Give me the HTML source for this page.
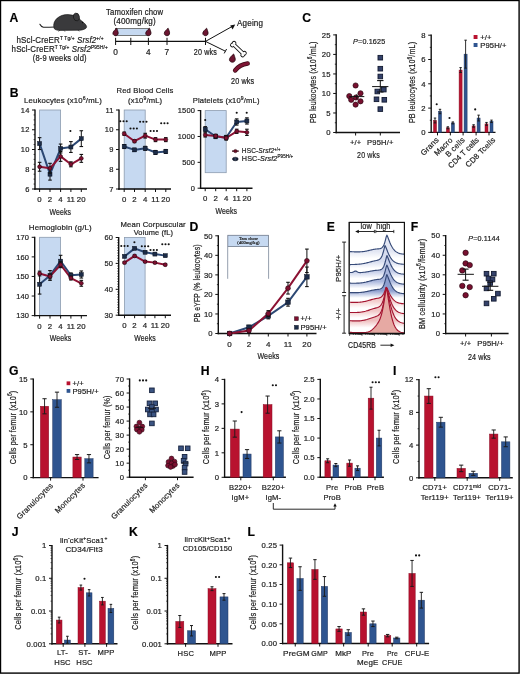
<!DOCTYPE html>
<html><head><meta charset="utf-8"><style>
html,body{margin:0;padding:0;background:#fff;}
svg{display:block;will-change:transform;font-family:"Liberation Sans", sans-serif;}
text{stroke:#222;stroke-width:0.2px;letter-spacing:0.15px;}
</style></head><body>
<svg width="520" height="674" viewBox="0 0 520 674">
<rect x="0" y="0" width="520" height="674" fill="#fff"/>
<rect x="0.5" y="0.5" width="518.6" height="672.6" fill="none" stroke="#000" stroke-width="1.4"/>
<text x="9.46" y="22.2" font-size="12.2" font-weight="bold" fill="#000" style="stroke:#000;stroke-width:0.15px;letter-spacing:0">A</text>
<g fill="#3a3a3c" stroke="#111" stroke-width="0.6"><path d="M55,27.0 C50,27.0 46,27.6 43.4,27.2 C41.8,26.9 40.6,25.6 39.9,24.2" fill="none" stroke="#222" stroke-width="1.1" stroke-linecap="round"/><path d="M54,28 C52,20 60,14.2 68,14.6 C74,14.8 78,17 81,20.5 C84,22.5 87,25.5 86.6,27.2 C86,29 83,30 80,30.2 L60,30.4 C57,30.4 54.5,29.8 54,28 Z"/><ellipse cx="76.4" cy="17.0" rx="3.0" ry="3.9" transform="rotate(-15 76.4 17)"/><path d="M60,30 l-1.5,1.6 M64,30.3 l1,1.4 M78,30 l1.2,1.4" stroke="#222" fill="none"/></g>
<circle cx="82.6" cy="22.6" r="0.6" fill="#000"/>
<text x="60.1" y="42.6" font-size="8.3" text-anchor="middle" font-weight="normal" fill="#1a1a1a" textLength="87.2" lengthAdjust="spacingAndGlyphs">hScl-CreER<tspan dy="-2.8" font-size="5">T Tg/+</tspan><tspan dy="2.8"> </tspan><tspan font-style="italic">Srsf2</tspan><tspan dy="-2.8" font-size="5">+/+</tspan></text>
<text x="59.75" y="52" font-size="8.3" text-anchor="middle" font-weight="normal" fill="#1a1a1a" textLength="96.3" lengthAdjust="spacingAndGlyphs">hScl-CreER<tspan dy="-2.8" font-size="5">T Tg/+</tspan><tspan dy="2.8"> </tspan><tspan font-style="italic">Srsf2</tspan><tspan dy="-2.8" font-size="5">P95H/+</tspan></text>
<text x="59.75" y="60.8" font-size="8.3" text-anchor="middle" font-weight="normal" fill="#1a1a1a" textLength="53.9" lengthAdjust="spacingAndGlyphs">(8-9 weeks old)</text>
<text x="134.6" y="15.3" font-size="8.3" text-anchor="middle" font-weight="normal" fill="#1a1a1a" textLength="57.2" lengthAdjust="spacingAndGlyphs">Tamoxifen chow</text>
<text x="134.65" y="23.8" font-size="8.3" text-anchor="middle" font-weight="normal" fill="#1a1a1a" textLength="42.3" lengthAdjust="spacingAndGlyphs">(400mg/kg)</text>
<rect x="115.6" y="28.6" width="32.8" height="6.8" fill="#c6d9f1" stroke="#444" stroke-width="0.7"/>
<line x1="115.6" y1="41.4" x2="205.5" y2="41.4" stroke="#111" stroke-width="1.1"/>
<line x1="115.6" y1="37.8" x2="115.6" y2="45" stroke="#111" stroke-width="1"/>
<line x1="130.8" y1="37.8" x2="130.8" y2="45" stroke="#111" stroke-width="1"/>
<line x1="148.4" y1="37.8" x2="148.4" y2="45" stroke="#111" stroke-width="1"/>
<line x1="167" y1="37.8" x2="167" y2="45" stroke="#111" stroke-width="1"/>
<line x1="205.5" y1="37.8" x2="205.5" y2="45" stroke="#111" stroke-width="1"/>
<text x="115.6" y="55" font-size="8.3" text-anchor="middle" font-weight="normal" fill="#1a1a1a">0</text>
<text x="148.4" y="55" font-size="8.3" text-anchor="middle" font-weight="normal" fill="#1a1a1a">4</text>
<text x="167" y="55" font-size="8.3" text-anchor="middle" font-weight="normal" fill="#1a1a1a">7</text>
<text x="205.35" y="55" font-size="8.3" text-anchor="middle" font-weight="normal" fill="#1a1a1a" textLength="23.1" lengthAdjust="spacingAndGlyphs">20 wks</text>
<path d="M116.7,28.2 C115,29.8 112.9,31.6 112.9,33.3 C112.9,35 114.4,35.7 115.6,35.7 C117.2,35.7 118.3,34.6 118.2,32.8 C118.1,31 117.2,29.8 116.7,28.2 Z" fill="#6c1631" stroke="#24060e" stroke-width="0.8"/>
<path d="M149.5,28.2 C147.8,29.8 145.7,31.6 145.7,33.3 C145.7,35 147.2,35.7 148.4,35.7 C150,35.7 151.1,34.6 151,32.8 C150.9,31 150,29.8 149.5,28.2 Z" fill="#6c1631" stroke="#24060e" stroke-width="0.8"/>
<path d="M168.1,28.2 C166.4,29.8 164.3,31.6 164.3,33.3 C164.3,35 165.8,35.7 167,35.7 C168.6,35.7 169.7,34.6 169.6,32.8 C169.5,31 168.6,29.8 168.1,28.2 Z" fill="#6c1631" stroke="#24060e" stroke-width="0.8"/>
<path d="M206.6,28.2 C204.9,29.8 202.8,31.6 202.8,33.3 C202.8,35 204.3,35.7 205.5,35.7 C207.1,35.7 208.2,34.6 208.1,32.8 C208,31 207.1,29.8 206.6,28.2 Z" fill="#6c1631" stroke="#24060e" stroke-width="0.8"/>
<line x1="205.5" y1="41.4" x2="232.6" y2="26.2" stroke="#111" stroke-width="1"/>
<path d="M235.2,24.6 L230.2,25.6 L232.6,29.6 Z" fill="#111" stroke="none" stroke-width="1"/>
<line x1="205.5" y1="41.4" x2="225.4" y2="51.2" stroke="#111" stroke-width="1"/>
<line x1="224.2" y1="53.4" x2="226.6" y2="49" stroke="#111" stroke-width="1"/>
<text x="237.1" y="26.3" font-size="8.3" text-anchor="start" font-weight="normal" fill="#1a1a1a" textLength="26" lengthAdjust="spacingAndGlyphs">Ageing</text>
<g transform="translate(238.4,49.1) rotate(44)"><g fill="#111" stroke="#111" stroke-width="1.7"><rect x="-6.6" y="-1.15" width="13.2" height="2.3"/><circle cx="-7.2" cy="-1.25" r="1.45"/><circle cx="-7.2" cy="1.25" r="1.45"/><circle cx="7.2" cy="-1.25" r="1.45"/><circle cx="7.2" cy="1.25" r="1.45"/></g><g fill="#fff" stroke="none"><rect x="-6.6" y="-1.15" width="13.2" height="2.3"/><circle cx="-7.2" cy="-1.25" r="1.45"/><circle cx="-7.2" cy="1.25" r="1.45"/><circle cx="7.2" cy="-1.25" r="1.45"/><circle cx="7.2" cy="1.25" r="1.45"/></g></g>
<path d="M233.61,53.98 C231.74,55.74 229.43,57.72 229.43,59.59 C229.43,61.46 231.08,62.23 232.4,62.23 C234.16,62.23 235.37,61.02 235.26,59.04 C235.15,57.06 234.16,55.74 233.61,53.98 Z" fill="#6c1631" stroke="#24060e" stroke-width="0.8"/>
<path d="M235.2,70.4 Q239.5,64.6 247.6,63.5" fill="none" stroke="#3a0a14" stroke-width="4.6" stroke-linecap="round"/>
<path d="M235.2,70.4 Q239.5,64.6 247.6,63.5" fill="none" stroke="#7e1634" stroke-width="3.2" stroke-linecap="round"/>
<text x="242.65" y="84.4" font-size="8.3" text-anchor="middle" font-weight="normal" fill="#1a1a1a" textLength="23.3" lengthAdjust="spacingAndGlyphs">20 wks</text>
<text x="9.87" y="96.9" font-size="12.2" font-weight="bold" fill="#000" style="stroke:#000;stroke-width:0.15px;letter-spacing:0">B</text>
<text x="63" y="103" font-size="7.8" text-anchor="middle" font-weight="normal" fill="#1a1a1a" textLength="78" lengthAdjust="spacingAndGlyphs">Leukocytes (x10<tspan dy="-2.8" font-size="5.2">6</tspan><tspan dy="2.8">/mL)</tspan></text>
<rect x="39.6" y="110" width="21" height="79" fill="#c6d9f1" stroke="#8c9cb0" stroke-width="0.8"/>
<line x1="35" y1="109.4" x2="35" y2="189.7" stroke="#111" stroke-width="1.4"/>
<line x1="32" y1="189" x2="35" y2="189" stroke="#111" stroke-width="1"/>
<text x="29.5" y="191.7" font-size="7.5" text-anchor="end" font-weight="normal" fill="#1c1c1c">6</text>
<line x1="32" y1="169.25" x2="35" y2="169.25" stroke="#111" stroke-width="1"/>
<text x="29.5" y="171.95" font-size="7.5" text-anchor="end" font-weight="normal" fill="#1c1c1c">8</text>
<line x1="32" y1="149.5" x2="35" y2="149.5" stroke="#111" stroke-width="1"/>
<text x="29.5" y="152.2" font-size="7.5" text-anchor="end" font-weight="normal" fill="#1c1c1c">10</text>
<line x1="32" y1="129.75" x2="35" y2="129.75" stroke="#111" stroke-width="1"/>
<text x="29.5" y="132.45" font-size="7.5" text-anchor="end" font-weight="normal" fill="#1c1c1c">12</text>
<line x1="32" y1="110" x2="35" y2="110" stroke="#111" stroke-width="1"/>
<text x="29.5" y="112.7" font-size="7.5" text-anchor="end" font-weight="normal" fill="#1c1c1c">14</text>
<line x1="33.6" y1="184.06" x2="35" y2="184.06" stroke="#111" stroke-width="0.8"/>
<line x1="33.6" y1="179.12" x2="35" y2="179.12" stroke="#111" stroke-width="0.8"/>
<line x1="33.6" y1="174.19" x2="35" y2="174.19" stroke="#111" stroke-width="0.8"/>
<line x1="33.6" y1="164.31" x2="35" y2="164.31" stroke="#111" stroke-width="0.8"/>
<line x1="33.6" y1="159.38" x2="35" y2="159.38" stroke="#111" stroke-width="0.8"/>
<line x1="33.6" y1="154.44" x2="35" y2="154.44" stroke="#111" stroke-width="0.8"/>
<line x1="33.6" y1="144.56" x2="35" y2="144.56" stroke="#111" stroke-width="0.8"/>
<line x1="33.6" y1="139.62" x2="35" y2="139.62" stroke="#111" stroke-width="0.8"/>
<line x1="33.6" y1="134.69" x2="35" y2="134.69" stroke="#111" stroke-width="0.8"/>
<line x1="33.6" y1="124.81" x2="35" y2="124.81" stroke="#111" stroke-width="0.8"/>
<line x1="33.6" y1="119.88" x2="35" y2="119.88" stroke="#111" stroke-width="0.8"/>
<line x1="33.6" y1="114.94" x2="35" y2="114.94" stroke="#111" stroke-width="0.8"/>
<line x1="34.3" y1="189" x2="87" y2="189" stroke="#111" stroke-width="1.4"/>
<line x1="39.6" y1="189" x2="39.6" y2="192" stroke="#111" stroke-width="1"/>
<line x1="50" y1="189" x2="50" y2="192" stroke="#111" stroke-width="1"/>
<line x1="60.6" y1="189" x2="60.6" y2="192" stroke="#111" stroke-width="1"/>
<line x1="70.9" y1="189" x2="70.9" y2="192" stroke="#111" stroke-width="1"/>
<line x1="81.3" y1="189" x2="81.3" y2="192" stroke="#111" stroke-width="1"/>
<text x="39.6" y="202.2" font-size="7.8" text-anchor="middle" font-weight="normal" fill="#1c1c1c">0</text>
<text x="50" y="202.2" font-size="7.8" text-anchor="middle" font-weight="normal" fill="#1c1c1c">2</text>
<text x="60.6" y="202.2" font-size="7.8" text-anchor="middle" font-weight="normal" fill="#1c1c1c">4</text>
<text x="70.9" y="202.2" font-size="7.8" text-anchor="middle" font-weight="normal" fill="#1c1c1c">11</text>
<text x="81.3" y="202.2" font-size="7.8" text-anchor="middle" font-weight="normal" fill="#1c1c1c">20</text>
<polyline points="39.6,143.57 50,174.19 60.6,148.51 70.9,147.03 81.3,138.64" fill="none" stroke="#2c4874" stroke-width="2.0" stroke-linejoin="round"/>
<polyline points="39.6,166.78 50,168.26 60.6,156.41 70.9,164.31 81.3,158.39" fill="none" stroke="#8c1233" stroke-width="2.0" stroke-linejoin="round"/>
<line x1="39.6" y1="137.65" x2="39.6" y2="149.5" stroke="#111" stroke-width="1"/>
<line x1="37.8" y1="137.65" x2="41.4" y2="137.65" stroke="#111" stroke-width="1.1"/>
<line x1="37.8" y1="149.5" x2="41.4" y2="149.5" stroke="#111" stroke-width="1.1"/>
<rect x="37.6" y="141.57" width="4" height="4" fill="#1c2c48" stroke="#0c1220" stroke-width="0.5"/>
<line x1="50" y1="168.26" x2="50" y2="180.11" stroke="#111" stroke-width="1"/>
<line x1="48.2" y1="168.26" x2="51.8" y2="168.26" stroke="#111" stroke-width="1.1"/>
<line x1="48.2" y1="180.11" x2="51.8" y2="180.11" stroke="#111" stroke-width="1.1"/>
<rect x="48" y="172.19" width="4" height="4" fill="#1c2c48" stroke="#0c1220" stroke-width="0.5"/>
<line x1="60.6" y1="144.07" x2="60.6" y2="152.96" stroke="#111" stroke-width="1"/>
<line x1="58.8" y1="144.07" x2="62.4" y2="144.07" stroke="#111" stroke-width="1.1"/>
<line x1="58.8" y1="152.96" x2="62.4" y2="152.96" stroke="#111" stroke-width="1.1"/>
<rect x="58.6" y="146.51" width="4" height="4" fill="#1c2c48" stroke="#0c1220" stroke-width="0.5"/>
<line x1="70.9" y1="141.6" x2="70.9" y2="152.46" stroke="#111" stroke-width="1"/>
<line x1="69.1" y1="141.6" x2="72.7" y2="141.6" stroke="#111" stroke-width="1.1"/>
<line x1="69.1" y1="152.46" x2="72.7" y2="152.46" stroke="#111" stroke-width="1.1"/>
<rect x="68.9" y="145.03" width="4" height="4" fill="#1c2c48" stroke="#0c1220" stroke-width="0.5"/>
<line x1="81.3" y1="130.74" x2="81.3" y2="146.54" stroke="#111" stroke-width="1"/>
<line x1="79.5" y1="130.74" x2="83.1" y2="130.74" stroke="#111" stroke-width="1.1"/>
<line x1="79.5" y1="146.54" x2="83.1" y2="146.54" stroke="#111" stroke-width="1.1"/>
<rect x="79.3" y="136.64" width="4" height="4" fill="#1c2c48" stroke="#0c1220" stroke-width="0.5"/>
<line x1="39.6" y1="162.34" x2="39.6" y2="171.22" stroke="#111" stroke-width="1"/>
<line x1="37.8" y1="162.34" x2="41.4" y2="162.34" stroke="#111" stroke-width="1.1"/>
<line x1="37.8" y1="171.22" x2="41.4" y2="171.22" stroke="#111" stroke-width="1.1"/>
<circle cx="39.6" cy="166.78" r="1.95" fill="#7e1030" stroke="#2a0610" stroke-width="0.6"/>
<line x1="50" y1="163.32" x2="50" y2="173.2" stroke="#111" stroke-width="1"/>
<line x1="48.2" y1="163.32" x2="51.8" y2="163.32" stroke="#111" stroke-width="1.1"/>
<line x1="48.2" y1="173.2" x2="51.8" y2="173.2" stroke="#111" stroke-width="1.1"/>
<circle cx="50" cy="168.26" r="1.95" fill="#7e1030" stroke="#2a0610" stroke-width="0.6"/>
<line x1="60.6" y1="151.47" x2="60.6" y2="161.35" stroke="#111" stroke-width="1"/>
<line x1="58.8" y1="151.47" x2="62.4" y2="151.47" stroke="#111" stroke-width="1.1"/>
<line x1="58.8" y1="161.35" x2="62.4" y2="161.35" stroke="#111" stroke-width="1.1"/>
<circle cx="60.6" cy="156.41" r="1.95" fill="#7e1030" stroke="#2a0610" stroke-width="0.6"/>
<line x1="70.9" y1="161.84" x2="70.9" y2="166.78" stroke="#111" stroke-width="1"/>
<line x1="69.1" y1="161.84" x2="72.7" y2="161.84" stroke="#111" stroke-width="1.1"/>
<line x1="69.1" y1="166.78" x2="72.7" y2="166.78" stroke="#111" stroke-width="1.1"/>
<circle cx="70.9" cy="164.31" r="1.95" fill="#7e1030" stroke="#2a0610" stroke-width="0.6"/>
<line x1="81.3" y1="154.44" x2="81.3" y2="162.34" stroke="#111" stroke-width="1"/>
<line x1="79.5" y1="154.44" x2="83.1" y2="154.44" stroke="#111" stroke-width="1.1"/>
<line x1="79.5" y1="162.34" x2="83.1" y2="162.34" stroke="#111" stroke-width="1.1"/>
<circle cx="81.3" cy="158.39" r="1.95" fill="#7e1030" stroke="#2a0610" stroke-width="0.6"/>
<circle cx="70.4" cy="131" r="1.05" fill="#111" stroke="none" stroke-width="0.6"/>
<text x="60.4" y="214.6" font-size="8.2" text-anchor="middle" font-weight="normal" fill="#1a1a1a" textLength="21.6" lengthAdjust="spacingAndGlyphs">Weeks</text>
<text x="145" y="93.4" font-size="7.8" text-anchor="middle" font-weight="normal" fill="#1a1a1a" textLength="57" lengthAdjust="spacingAndGlyphs">Red Blood Cells</text>
<text x="145.2" y="103" font-size="7.8" text-anchor="middle" font-weight="normal" fill="#1a1a1a" textLength="34.2" lengthAdjust="spacingAndGlyphs">(x10<tspan dy="-2.8" font-size="5.2">9</tspan><tspan dy="2.8">/mL)</tspan></text>
<rect x="124.2" y="110" width="21" height="79" fill="#c6d9f1" stroke="#8c9cb0" stroke-width="0.8"/>
<line x1="119" y1="109.4" x2="119" y2="189.7" stroke="#111" stroke-width="1.4"/>
<line x1="116" y1="189" x2="119" y2="189" stroke="#111" stroke-width="1"/>
<text x="113.5" y="191.7" font-size="7.5" text-anchor="end" font-weight="normal" fill="#1c1c1c">7</text>
<line x1="116" y1="169.25" x2="119" y2="169.25" stroke="#111" stroke-width="1"/>
<text x="113.5" y="171.95" font-size="7.5" text-anchor="end" font-weight="normal" fill="#1c1c1c">8</text>
<line x1="116" y1="149.5" x2="119" y2="149.5" stroke="#111" stroke-width="1"/>
<text x="113.5" y="152.2" font-size="7.5" text-anchor="end" font-weight="normal" fill="#1c1c1c">9</text>
<line x1="116" y1="129.75" x2="119" y2="129.75" stroke="#111" stroke-width="1"/>
<text x="113.5" y="132.45" font-size="7.5" text-anchor="end" font-weight="normal" fill="#1c1c1c">10</text>
<line x1="116" y1="110" x2="119" y2="110" stroke="#111" stroke-width="1"/>
<text x="113.5" y="112.7" font-size="7.5" text-anchor="end" font-weight="normal" fill="#1c1c1c">11</text>
<line x1="118.3" y1="189" x2="171" y2="189" stroke="#111" stroke-width="1.4"/>
<line x1="124.2" y1="189" x2="124.2" y2="192" stroke="#111" stroke-width="1"/>
<line x1="134.5" y1="189" x2="134.5" y2="192" stroke="#111" stroke-width="1"/>
<line x1="145.2" y1="189" x2="145.2" y2="192" stroke="#111" stroke-width="1"/>
<line x1="155.5" y1="189" x2="155.5" y2="192" stroke="#111" stroke-width="1"/>
<line x1="165.8" y1="189" x2="165.8" y2="192" stroke="#111" stroke-width="1"/>
<text x="124.2" y="202.2" font-size="7.8" text-anchor="middle" font-weight="normal" fill="#1c1c1c">0</text>
<text x="134.5" y="202.2" font-size="7.8" text-anchor="middle" font-weight="normal" fill="#1c1c1c">2</text>
<text x="145.2" y="202.2" font-size="7.8" text-anchor="middle" font-weight="normal" fill="#1c1c1c">4</text>
<text x="155.5" y="202.2" font-size="7.8" text-anchor="middle" font-weight="normal" fill="#1c1c1c">11</text>
<text x="165.8" y="202.2" font-size="7.8" text-anchor="middle" font-weight="normal" fill="#1c1c1c">20</text>
<polyline points="124.2,146.54 134.5,149.89 145.2,148.31 155.5,152.46 165.8,151.47" fill="none" stroke="#2c4874" stroke-width="2.0" stroke-linejoin="round"/>
<polyline points="124.2,133.7 134.5,141.2 145.2,135.68 155.5,139.62 165.8,139.62" fill="none" stroke="#8c1233" stroke-width="2.0" stroke-linejoin="round"/>
<line x1="124.2" y1="144.56" x2="124.2" y2="148.51" stroke="#111" stroke-width="1"/>
<line x1="122.4" y1="144.56" x2="126" y2="144.56" stroke="#111" stroke-width="1.1"/>
<line x1="122.4" y1="148.51" x2="126" y2="148.51" stroke="#111" stroke-width="1.1"/>
<rect x="122.2" y="144.54" width="4" height="4" fill="#1c2c48" stroke="#0c1220" stroke-width="0.5"/>
<line x1="134.5" y1="148.31" x2="134.5" y2="151.47" stroke="#111" stroke-width="1"/>
<line x1="132.7" y1="148.31" x2="136.3" y2="148.31" stroke="#111" stroke-width="1.1"/>
<line x1="132.7" y1="151.47" x2="136.3" y2="151.47" stroke="#111" stroke-width="1.1"/>
<rect x="132.5" y="147.89" width="4" height="4" fill="#1c2c48" stroke="#0c1220" stroke-width="0.5"/>
<line x1="145.2" y1="146.34" x2="145.2" y2="150.29" stroke="#111" stroke-width="1"/>
<line x1="143.4" y1="146.34" x2="147" y2="146.34" stroke="#111" stroke-width="1.1"/>
<line x1="143.4" y1="150.29" x2="147" y2="150.29" stroke="#111" stroke-width="1.1"/>
<rect x="143.2" y="146.31" width="4" height="4" fill="#1c2c48" stroke="#0c1220" stroke-width="0.5"/>
<line x1="155.5" y1="150.49" x2="155.5" y2="154.44" stroke="#111" stroke-width="1"/>
<line x1="153.7" y1="150.49" x2="157.3" y2="150.49" stroke="#111" stroke-width="1.1"/>
<line x1="153.7" y1="154.44" x2="157.3" y2="154.44" stroke="#111" stroke-width="1.1"/>
<rect x="153.5" y="150.46" width="4" height="4" fill="#1c2c48" stroke="#0c1220" stroke-width="0.5"/>
<line x1="165.8" y1="149.5" x2="165.8" y2="153.45" stroke="#111" stroke-width="1"/>
<line x1="164" y1="149.5" x2="167.6" y2="149.5" stroke="#111" stroke-width="1.1"/>
<line x1="164" y1="153.45" x2="167.6" y2="153.45" stroke="#111" stroke-width="1.1"/>
<rect x="163.8" y="149.47" width="4" height="4" fill="#1c2c48" stroke="#0c1220" stroke-width="0.5"/>
<line x1="124.2" y1="132.12" x2="124.2" y2="135.28" stroke="#111" stroke-width="1"/>
<line x1="122.4" y1="132.12" x2="126" y2="132.12" stroke="#111" stroke-width="1.1"/>
<line x1="122.4" y1="135.28" x2="126" y2="135.28" stroke="#111" stroke-width="1.1"/>
<circle cx="124.2" cy="133.7" r="1.95" fill="#7e1030" stroke="#2a0610" stroke-width="0.6"/>
<line x1="134.5" y1="139.82" x2="134.5" y2="142.59" stroke="#111" stroke-width="1"/>
<line x1="132.7" y1="139.82" x2="136.3" y2="139.82" stroke="#111" stroke-width="1.1"/>
<line x1="132.7" y1="142.59" x2="136.3" y2="142.59" stroke="#111" stroke-width="1.1"/>
<circle cx="134.5" cy="141.2" r="1.95" fill="#7e1030" stroke="#2a0610" stroke-width="0.6"/>
<line x1="145.2" y1="133.31" x2="145.2" y2="138.05" stroke="#111" stroke-width="1"/>
<line x1="143.4" y1="133.31" x2="147" y2="133.31" stroke="#111" stroke-width="1.1"/>
<line x1="143.4" y1="138.05" x2="147" y2="138.05" stroke="#111" stroke-width="1.1"/>
<circle cx="145.2" cy="135.68" r="1.95" fill="#7e1030" stroke="#2a0610" stroke-width="0.6"/>
<line x1="155.5" y1="137.65" x2="155.5" y2="141.6" stroke="#111" stroke-width="1"/>
<line x1="153.7" y1="137.65" x2="157.3" y2="137.65" stroke="#111" stroke-width="1.1"/>
<line x1="153.7" y1="141.6" x2="157.3" y2="141.6" stroke="#111" stroke-width="1.1"/>
<circle cx="155.5" cy="139.62" r="1.95" fill="#7e1030" stroke="#2a0610" stroke-width="0.6"/>
<line x1="165.8" y1="137.65" x2="165.8" y2="141.6" stroke="#111" stroke-width="1"/>
<line x1="164" y1="137.65" x2="167.6" y2="137.65" stroke="#111" stroke-width="1.1"/>
<line x1="164" y1="141.6" x2="167.6" y2="141.6" stroke="#111" stroke-width="1.1"/>
<circle cx="165.8" cy="139.62" r="1.95" fill="#7e1030" stroke="#2a0610" stroke-width="0.6"/>
<circle cx="120.3" cy="121.2" r="1.05" fill="#111" stroke="none" stroke-width="0.6"/>
<circle cx="123.5" cy="121.2" r="1.05" fill="#111" stroke="none" stroke-width="0.6"/>
<circle cx="126.7" cy="121.2" r="1.05" fill="#111" stroke="none" stroke-width="0.6"/>
<circle cx="130.5" cy="128.5" r="1.05" fill="#111" stroke="none" stroke-width="0.6"/>
<circle cx="133.7" cy="128.5" r="1.05" fill="#111" stroke="none" stroke-width="0.6"/>
<circle cx="136.9" cy="128.5" r="1.05" fill="#111" stroke="none" stroke-width="0.6"/>
<circle cx="140.1" cy="121.7" r="1.05" fill="#111" stroke="none" stroke-width="0.6"/>
<circle cx="143.3" cy="121.7" r="1.05" fill="#111" stroke="none" stroke-width="0.6"/>
<circle cx="146.5" cy="121.7" r="1.05" fill="#111" stroke="none" stroke-width="0.6"/>
<circle cx="150.6" cy="131" r="1.05" fill="#111" stroke="none" stroke-width="0.6"/>
<circle cx="153.8" cy="131" r="1.05" fill="#111" stroke="none" stroke-width="0.6"/>
<circle cx="157" cy="131" r="1.05" fill="#111" stroke="none" stroke-width="0.6"/>
<circle cx="161.2" cy="123.3" r="1.05" fill="#111" stroke="none" stroke-width="0.6"/>
<circle cx="164.4" cy="123.3" r="1.05" fill="#111" stroke="none" stroke-width="0.6"/>
<circle cx="167.6" cy="123.3" r="1.05" fill="#111" stroke="none" stroke-width="0.6"/>
<text x="226.2" y="102.6" font-size="7.8" text-anchor="middle" font-weight="normal" fill="#1a1a1a" textLength="66.8" lengthAdjust="spacingAndGlyphs">Platelets (x10<tspan dy="-2.8" font-size="5.2">9</tspan><tspan dy="2.8">/mL)</tspan></text>
<rect x="205.2" y="110.6" width="21" height="62.08" fill="#c6d9f1" stroke="#8c9cb0" stroke-width="0.8"/>
<line x1="200.6" y1="110" x2="200.6" y2="188.9" stroke="#111" stroke-width="1.4"/>
<line x1="197.6" y1="188.2" x2="200.6" y2="188.2" stroke="#111" stroke-width="1"/>
<text x="195.1" y="190.9" font-size="7.5" text-anchor="end" font-weight="normal" fill="#1c1c1c">0</text>
<line x1="197.6" y1="162.33" x2="200.6" y2="162.33" stroke="#111" stroke-width="1"/>
<text x="195.1" y="165.03" font-size="7.5" text-anchor="end" font-weight="normal" fill="#1c1c1c">500</text>
<line x1="197.6" y1="136.47" x2="200.6" y2="136.47" stroke="#111" stroke-width="1"/>
<text x="195.1" y="139.17" font-size="7.5" text-anchor="end" font-weight="normal" fill="#1c1c1c">1000</text>
<line x1="197.6" y1="110.6" x2="200.6" y2="110.6" stroke="#111" stroke-width="1"/>
<text x="195.1" y="113.3" font-size="7.5" text-anchor="end" font-weight="normal" fill="#1c1c1c">1500</text>
<line x1="199.9" y1="188.2" x2="252.5" y2="188.2" stroke="#111" stroke-width="1.4"/>
<line x1="205.2" y1="188.2" x2="205.2" y2="191.2" stroke="#111" stroke-width="1"/>
<line x1="215.7" y1="188.2" x2="215.7" y2="191.2" stroke="#111" stroke-width="1"/>
<line x1="226.2" y1="188.2" x2="226.2" y2="191.2" stroke="#111" stroke-width="1"/>
<line x1="236.7" y1="188.2" x2="236.7" y2="191.2" stroke="#111" stroke-width="1"/>
<line x1="246.9" y1="188.2" x2="246.9" y2="191.2" stroke="#111" stroke-width="1"/>
<text x="205.2" y="201.4" font-size="7.8" text-anchor="middle" font-weight="normal" fill="#1c1c1c">0</text>
<text x="215.7" y="201.4" font-size="7.8" text-anchor="middle" font-weight="normal" fill="#1c1c1c">2</text>
<text x="226.2" y="201.4" font-size="7.8" text-anchor="middle" font-weight="normal" fill="#1c1c1c">4</text>
<text x="236.7" y="201.4" font-size="7.8" text-anchor="middle" font-weight="normal" fill="#1c1c1c">11</text>
<text x="246.9" y="201.4" font-size="7.8" text-anchor="middle" font-weight="normal" fill="#1c1c1c">20</text>
<polyline points="205.2,129.22 215.7,136.47 226.2,137.5 236.7,121.98 246.9,120.95" fill="none" stroke="#2c4874" stroke-width="2.0" stroke-linejoin="round"/>
<polyline points="205.2,134.91 215.7,135.95 226.2,138.02 236.7,131.29 246.9,132.33" fill="none" stroke="#8c1233" stroke-width="2.0" stroke-linejoin="round"/>
<line x1="205.2" y1="126.64" x2="205.2" y2="131.81" stroke="#111" stroke-width="1"/>
<line x1="203.4" y1="126.64" x2="207" y2="126.64" stroke="#111" stroke-width="1.1"/>
<line x1="203.4" y1="131.81" x2="207" y2="131.81" stroke="#111" stroke-width="1.1"/>
<rect x="203.2" y="127.22" width="4" height="4" fill="#1c2c48" stroke="#0c1220" stroke-width="0.5"/>
<line x1="215.7" y1="134.4" x2="215.7" y2="138.54" stroke="#111" stroke-width="1"/>
<line x1="213.9" y1="134.4" x2="217.5" y2="134.4" stroke="#111" stroke-width="1.1"/>
<line x1="213.9" y1="138.54" x2="217.5" y2="138.54" stroke="#111" stroke-width="1.1"/>
<rect x="213.7" y="134.47" width="4" height="4" fill="#1c2c48" stroke="#0c1220" stroke-width="0.5"/>
<line x1="226.2" y1="135.43" x2="226.2" y2="139.57" stroke="#111" stroke-width="1"/>
<line x1="224.4" y1="135.43" x2="228" y2="135.43" stroke="#111" stroke-width="1.1"/>
<line x1="224.4" y1="139.57" x2="228" y2="139.57" stroke="#111" stroke-width="1.1"/>
<rect x="224.2" y="135.5" width="4" height="4" fill="#1c2c48" stroke="#0c1220" stroke-width="0.5"/>
<line x1="236.7" y1="118.88" x2="236.7" y2="125.09" stroke="#111" stroke-width="1"/>
<line x1="234.9" y1="118.88" x2="238.5" y2="118.88" stroke="#111" stroke-width="1.1"/>
<line x1="234.9" y1="125.09" x2="238.5" y2="125.09" stroke="#111" stroke-width="1.1"/>
<rect x="234.7" y="119.98" width="4" height="4" fill="#1c2c48" stroke="#0c1220" stroke-width="0.5"/>
<line x1="246.9" y1="117.84" x2="246.9" y2="124.05" stroke="#111" stroke-width="1"/>
<line x1="245.1" y1="117.84" x2="248.7" y2="117.84" stroke="#111" stroke-width="1.1"/>
<line x1="245.1" y1="124.05" x2="248.7" y2="124.05" stroke="#111" stroke-width="1.1"/>
<rect x="244.9" y="118.95" width="4" height="4" fill="#1c2c48" stroke="#0c1220" stroke-width="0.5"/>
<line x1="205.2" y1="132.85" x2="205.2" y2="136.98" stroke="#111" stroke-width="1"/>
<line x1="203.4" y1="132.85" x2="207" y2="132.85" stroke="#111" stroke-width="1.1"/>
<line x1="203.4" y1="136.98" x2="207" y2="136.98" stroke="#111" stroke-width="1.1"/>
<circle cx="205.2" cy="134.91" r="1.95" fill="#7e1030" stroke="#2a0610" stroke-width="0.6"/>
<line x1="215.7" y1="134.4" x2="215.7" y2="137.5" stroke="#111" stroke-width="1"/>
<line x1="213.9" y1="134.4" x2="217.5" y2="134.4" stroke="#111" stroke-width="1.1"/>
<line x1="213.9" y1="137.5" x2="217.5" y2="137.5" stroke="#111" stroke-width="1.1"/>
<circle cx="215.7" cy="135.95" r="1.95" fill="#7e1030" stroke="#2a0610" stroke-width="0.6"/>
<line x1="226.2" y1="135.95" x2="226.2" y2="140.09" stroke="#111" stroke-width="1"/>
<line x1="224.4" y1="135.95" x2="228" y2="135.95" stroke="#111" stroke-width="1.1"/>
<line x1="224.4" y1="140.09" x2="228" y2="140.09" stroke="#111" stroke-width="1.1"/>
<circle cx="226.2" cy="138.02" r="1.95" fill="#7e1030" stroke="#2a0610" stroke-width="0.6"/>
<line x1="236.7" y1="129.22" x2="236.7" y2="133.36" stroke="#111" stroke-width="1"/>
<line x1="234.9" y1="129.22" x2="238.5" y2="129.22" stroke="#111" stroke-width="1.1"/>
<line x1="234.9" y1="133.36" x2="238.5" y2="133.36" stroke="#111" stroke-width="1.1"/>
<circle cx="236.7" cy="131.29" r="1.95" fill="#7e1030" stroke="#2a0610" stroke-width="0.6"/>
<line x1="246.9" y1="129.22" x2="246.9" y2="135.43" stroke="#111" stroke-width="1"/>
<line x1="245.1" y1="129.22" x2="248.7" y2="129.22" stroke="#111" stroke-width="1.1"/>
<line x1="245.1" y1="135.43" x2="248.7" y2="135.43" stroke="#111" stroke-width="1.1"/>
<circle cx="246.9" cy="132.33" r="1.95" fill="#7e1030" stroke="#2a0610" stroke-width="0.6"/>
<circle cx="205.2" cy="120" r="1.05" fill="#111" stroke="none" stroke-width="0.6"/>
<circle cx="236.7" cy="112.7" r="1.05" fill="#111" stroke="none" stroke-width="0.6"/>
<circle cx="246.7" cy="112.7" r="1.05" fill="#111" stroke="none" stroke-width="0.6"/>
<text x="226.3" y="214" font-size="8.2" text-anchor="middle" font-weight="normal" fill="#1a1a1a" textLength="21.6" lengthAdjust="spacingAndGlyphs">Weeks</text>
<line x1="232" y1="151.1" x2="238.8" y2="151.1" stroke="#3a0a16" stroke-width="1.3"/>
<circle cx="235.4" cy="151.1" r="1.7" fill="#6a0e26" stroke="#2a0610" stroke-width="0.5"/>
<ellipse cx="235.3" cy="159.0" rx="2.9" ry="1.8" fill="#142034" stroke="#0a1020" stroke-width="0.5"/>
<rect x="234.4" y="158.2" width="1.8" height="1.6" fill="#3a4a68" stroke="none" stroke-width="0.6"/>
<text x="241.8" y="153.3" font-size="7.8" text-anchor="start" font-weight="normal" fill="#1a1a1a" textLength="38.7" lengthAdjust="spacingAndGlyphs">HSC-<tspan font-style="italic">Srsf2</tspan><tspan dy="-2.8" font-size="4.8">+/+</tspan></text>
<text x="241.8" y="161.1" font-size="7.8" text-anchor="start" font-weight="normal" fill="#1a1a1a" textLength="51.5" lengthAdjust="spacingAndGlyphs">HSC-<tspan font-style="italic">Srsf2</tspan><tspan dy="-2.8" font-size="4.8">P95H/+</tspan></text>
<text x="60.35" y="229.8" font-size="7.8" text-anchor="middle" font-weight="normal" fill="#1a1a1a" textLength="63" lengthAdjust="spacingAndGlyphs">Hemoglobin (g/L)</text>
<rect x="39.6" y="237.3" width="21" height="78.3" fill="#c6d9f1" stroke="#8c9cb0" stroke-width="0.8"/>
<line x1="34.7" y1="236.7" x2="34.7" y2="316.3" stroke="#111" stroke-width="1.4"/>
<line x1="31.7" y1="315.6" x2="34.7" y2="315.6" stroke="#111" stroke-width="1"/>
<text x="29.2" y="318.3" font-size="7.5" text-anchor="end" font-weight="normal" fill="#1c1c1c">130</text>
<line x1="31.7" y1="296.03" x2="34.7" y2="296.03" stroke="#111" stroke-width="1"/>
<text x="29.2" y="298.73" font-size="7.5" text-anchor="end" font-weight="normal" fill="#1c1c1c">140</text>
<line x1="31.7" y1="276.45" x2="34.7" y2="276.45" stroke="#111" stroke-width="1"/>
<text x="29.2" y="279.15" font-size="7.5" text-anchor="end" font-weight="normal" fill="#1c1c1c">150</text>
<line x1="31.7" y1="256.88" x2="34.7" y2="256.88" stroke="#111" stroke-width="1"/>
<text x="29.2" y="259.57" font-size="7.5" text-anchor="end" font-weight="normal" fill="#1c1c1c">160</text>
<line x1="31.7" y1="237.3" x2="34.7" y2="237.3" stroke="#111" stroke-width="1"/>
<text x="29.2" y="240" font-size="7.5" text-anchor="end" font-weight="normal" fill="#1c1c1c">170</text>
<line x1="34" y1="315.6" x2="87" y2="315.6" stroke="#111" stroke-width="1.4"/>
<line x1="39.6" y1="315.6" x2="39.6" y2="318.6" stroke="#111" stroke-width="1"/>
<line x1="50" y1="315.6" x2="50" y2="318.6" stroke="#111" stroke-width="1"/>
<line x1="60.6" y1="315.6" x2="60.6" y2="318.6" stroke="#111" stroke-width="1"/>
<line x1="70.9" y1="315.6" x2="70.9" y2="318.6" stroke="#111" stroke-width="1"/>
<line x1="81.3" y1="315.6" x2="81.3" y2="318.6" stroke="#111" stroke-width="1"/>
<text x="39.6" y="328.8" font-size="7.8" text-anchor="middle" font-weight="normal" fill="#1c1c1c">0</text>
<text x="50" y="328.8" font-size="7.8" text-anchor="middle" font-weight="normal" fill="#1c1c1c">2</text>
<text x="60.6" y="328.8" font-size="7.8" text-anchor="middle" font-weight="normal" fill="#1c1c1c">4</text>
<text x="70.9" y="328.8" font-size="7.8" text-anchor="middle" font-weight="normal" fill="#1c1c1c">11</text>
<text x="81.3" y="328.8" font-size="7.8" text-anchor="middle" font-weight="normal" fill="#1c1c1c">20</text>
<polyline points="39.6,284.28 50,275.47 60.6,261.18 70.9,275.28 81.3,274.49" fill="none" stroke="#2c4874" stroke-width="2.0" stroke-linejoin="round"/>
<polyline points="39.6,273.51 50,276.45 60.6,264.71 70.9,278.02 81.3,283.3" fill="none" stroke="#8c1233" stroke-width="2.0" stroke-linejoin="round"/>
<line x1="39.6" y1="274.49" x2="39.6" y2="294.07" stroke="#111" stroke-width="1"/>
<line x1="37.8" y1="274.49" x2="41.4" y2="274.49" stroke="#111" stroke-width="1.1"/>
<line x1="37.8" y1="294.07" x2="41.4" y2="294.07" stroke="#111" stroke-width="1.1"/>
<rect x="37.6" y="282.28" width="4" height="4" fill="#1c2c48" stroke="#0c1220" stroke-width="0.5"/>
<line x1="50" y1="270.58" x2="50" y2="280.37" stroke="#111" stroke-width="1"/>
<line x1="48.2" y1="270.58" x2="51.8" y2="270.58" stroke="#111" stroke-width="1.1"/>
<line x1="48.2" y1="280.37" x2="51.8" y2="280.37" stroke="#111" stroke-width="1.1"/>
<rect x="48" y="273.47" width="4" height="4" fill="#1c2c48" stroke="#0c1220" stroke-width="0.5"/>
<line x1="60.6" y1="255.31" x2="60.6" y2="267.05" stroke="#111" stroke-width="1"/>
<line x1="58.8" y1="255.31" x2="62.4" y2="255.31" stroke="#111" stroke-width="1.1"/>
<line x1="58.8" y1="267.05" x2="62.4" y2="267.05" stroke="#111" stroke-width="1.1"/>
<rect x="58.6" y="259.18" width="4" height="4" fill="#1c2c48" stroke="#0c1220" stroke-width="0.5"/>
<line x1="70.9" y1="272.93" x2="70.9" y2="277.62" stroke="#111" stroke-width="1"/>
<line x1="69.1" y1="272.93" x2="72.7" y2="272.93" stroke="#111" stroke-width="1.1"/>
<line x1="69.1" y1="277.62" x2="72.7" y2="277.62" stroke="#111" stroke-width="1.1"/>
<rect x="68.9" y="273.28" width="4" height="4" fill="#1c2c48" stroke="#0c1220" stroke-width="0.5"/>
<line x1="81.3" y1="270.97" x2="81.3" y2="278.02" stroke="#111" stroke-width="1"/>
<line x1="79.5" y1="270.97" x2="83.1" y2="270.97" stroke="#111" stroke-width="1.1"/>
<line x1="79.5" y1="278.02" x2="83.1" y2="278.02" stroke="#111" stroke-width="1.1"/>
<rect x="79.3" y="272.49" width="4" height="4" fill="#1c2c48" stroke="#0c1220" stroke-width="0.5"/>
<line x1="39.6" y1="271.16" x2="39.6" y2="275.86" stroke="#111" stroke-width="1"/>
<line x1="37.8" y1="271.16" x2="41.4" y2="271.16" stroke="#111" stroke-width="1.1"/>
<line x1="37.8" y1="275.86" x2="41.4" y2="275.86" stroke="#111" stroke-width="1.1"/>
<circle cx="39.6" cy="273.51" r="1.95" fill="#7e1030" stroke="#2a0610" stroke-width="0.6"/>
<line x1="50" y1="274.1" x2="50" y2="278.8" stroke="#111" stroke-width="1"/>
<line x1="48.2" y1="274.1" x2="51.8" y2="274.1" stroke="#111" stroke-width="1.1"/>
<line x1="48.2" y1="278.8" x2="51.8" y2="278.8" stroke="#111" stroke-width="1.1"/>
<circle cx="50" cy="276.45" r="1.95" fill="#7e1030" stroke="#2a0610" stroke-width="0.6"/>
<line x1="60.6" y1="261.77" x2="60.6" y2="267.64" stroke="#111" stroke-width="1"/>
<line x1="58.8" y1="261.77" x2="62.4" y2="261.77" stroke="#111" stroke-width="1.1"/>
<line x1="58.8" y1="267.64" x2="62.4" y2="267.64" stroke="#111" stroke-width="1.1"/>
<circle cx="60.6" cy="264.71" r="1.95" fill="#7e1030" stroke="#2a0610" stroke-width="0.6"/>
<line x1="70.9" y1="276.06" x2="70.9" y2="279.97" stroke="#111" stroke-width="1"/>
<line x1="69.1" y1="276.06" x2="72.7" y2="276.06" stroke="#111" stroke-width="1.1"/>
<line x1="69.1" y1="279.97" x2="72.7" y2="279.97" stroke="#111" stroke-width="1.1"/>
<circle cx="70.9" cy="278.02" r="1.95" fill="#7e1030" stroke="#2a0610" stroke-width="0.6"/>
<line x1="81.3" y1="280.37" x2="81.3" y2="286.24" stroke="#111" stroke-width="1"/>
<line x1="79.5" y1="280.37" x2="83.1" y2="280.37" stroke="#111" stroke-width="1.1"/>
<line x1="79.5" y1="286.24" x2="83.1" y2="286.24" stroke="#111" stroke-width="1.1"/>
<circle cx="81.3" cy="283.3" r="1.95" fill="#7e1030" stroke="#2a0610" stroke-width="0.6"/>
<text x="60.6" y="341.3" font-size="8.2" text-anchor="middle" font-weight="normal" fill="#1a1a1a" textLength="21.6" lengthAdjust="spacingAndGlyphs">Weeks</text>
<text x="153.15" y="227" font-size="7.8" text-anchor="middle" font-weight="normal" fill="#1a1a1a" textLength="65.3" lengthAdjust="spacingAndGlyphs">Mean Corpuscular</text>
<text x="153.45" y="235.4" font-size="7.8" text-anchor="middle" font-weight="normal" fill="#1a1a1a" textLength="39.5" lengthAdjust="spacingAndGlyphs">Volume (fL)</text>
<rect x="124.5" y="237.5" width="20.6" height="77.7" fill="#c6d9f1" stroke="#8c9cb0" stroke-width="0.8"/>
<line x1="118.7" y1="236.9" x2="118.7" y2="315.9" stroke="#111" stroke-width="1.4"/>
<line x1="115.7" y1="315.2" x2="118.7" y2="315.2" stroke="#111" stroke-width="1"/>
<text x="113.2" y="317.9" font-size="7.5" text-anchor="end" font-weight="normal" fill="#1c1c1c">30</text>
<line x1="115.7" y1="289.3" x2="118.7" y2="289.3" stroke="#111" stroke-width="1"/>
<text x="113.2" y="292" font-size="7.5" text-anchor="end" font-weight="normal" fill="#1c1c1c">40</text>
<line x1="115.7" y1="263.4" x2="118.7" y2="263.4" stroke="#111" stroke-width="1"/>
<text x="113.2" y="266.1" font-size="7.5" text-anchor="end" font-weight="normal" fill="#1c1c1c">50</text>
<line x1="115.7" y1="237.5" x2="118.7" y2="237.5" stroke="#111" stroke-width="1"/>
<text x="113.2" y="240.2" font-size="7.5" text-anchor="end" font-weight="normal" fill="#1c1c1c">60</text>
<line x1="117.3" y1="312.61" x2="118.7" y2="312.61" stroke="#111" stroke-width="0.8"/>
<line x1="117.3" y1="310.02" x2="118.7" y2="310.02" stroke="#111" stroke-width="0.8"/>
<line x1="117.3" y1="307.43" x2="118.7" y2="307.43" stroke="#111" stroke-width="0.8"/>
<line x1="117.3" y1="304.84" x2="118.7" y2="304.84" stroke="#111" stroke-width="0.8"/>
<line x1="117.3" y1="302.25" x2="118.7" y2="302.25" stroke="#111" stroke-width="0.8"/>
<line x1="117.3" y1="299.66" x2="118.7" y2="299.66" stroke="#111" stroke-width="0.8"/>
<line x1="117.3" y1="297.07" x2="118.7" y2="297.07" stroke="#111" stroke-width="0.8"/>
<line x1="117.3" y1="294.48" x2="118.7" y2="294.48" stroke="#111" stroke-width="0.8"/>
<line x1="117.3" y1="291.89" x2="118.7" y2="291.89" stroke="#111" stroke-width="0.8"/>
<line x1="117.3" y1="286.71" x2="118.7" y2="286.71" stroke="#111" stroke-width="0.8"/>
<line x1="117.3" y1="284.12" x2="118.7" y2="284.12" stroke="#111" stroke-width="0.8"/>
<line x1="117.3" y1="281.53" x2="118.7" y2="281.53" stroke="#111" stroke-width="0.8"/>
<line x1="117.3" y1="278.94" x2="118.7" y2="278.94" stroke="#111" stroke-width="0.8"/>
<line x1="117.3" y1="276.35" x2="118.7" y2="276.35" stroke="#111" stroke-width="0.8"/>
<line x1="117.3" y1="273.76" x2="118.7" y2="273.76" stroke="#111" stroke-width="0.8"/>
<line x1="117.3" y1="271.17" x2="118.7" y2="271.17" stroke="#111" stroke-width="0.8"/>
<line x1="117.3" y1="268.58" x2="118.7" y2="268.58" stroke="#111" stroke-width="0.8"/>
<line x1="117.3" y1="265.99" x2="118.7" y2="265.99" stroke="#111" stroke-width="0.8"/>
<line x1="117.3" y1="260.81" x2="118.7" y2="260.81" stroke="#111" stroke-width="0.8"/>
<line x1="117.3" y1="258.22" x2="118.7" y2="258.22" stroke="#111" stroke-width="0.8"/>
<line x1="117.3" y1="255.63" x2="118.7" y2="255.63" stroke="#111" stroke-width="0.8"/>
<line x1="117.3" y1="253.04" x2="118.7" y2="253.04" stroke="#111" stroke-width="0.8"/>
<line x1="117.3" y1="250.45" x2="118.7" y2="250.45" stroke="#111" stroke-width="0.8"/>
<line x1="117.3" y1="247.86" x2="118.7" y2="247.86" stroke="#111" stroke-width="0.8"/>
<line x1="117.3" y1="245.27" x2="118.7" y2="245.27" stroke="#111" stroke-width="0.8"/>
<line x1="117.3" y1="242.68" x2="118.7" y2="242.68" stroke="#111" stroke-width="0.8"/>
<line x1="117.3" y1="240.09" x2="118.7" y2="240.09" stroke="#111" stroke-width="0.8"/>
<line x1="118" y1="315.2" x2="171" y2="315.2" stroke="#111" stroke-width="1.4"/>
<line x1="124.5" y1="315.2" x2="124.5" y2="318.2" stroke="#111" stroke-width="1"/>
<line x1="134.6" y1="315.2" x2="134.6" y2="318.2" stroke="#111" stroke-width="1"/>
<line x1="145.1" y1="315.2" x2="145.1" y2="318.2" stroke="#111" stroke-width="1"/>
<line x1="154.9" y1="315.2" x2="154.9" y2="318.2" stroke="#111" stroke-width="1"/>
<line x1="165.3" y1="315.2" x2="165.3" y2="318.2" stroke="#111" stroke-width="1"/>
<text x="124.5" y="328.4" font-size="7.8" text-anchor="middle" font-weight="normal" fill="#1c1c1c">0</text>
<text x="134.6" y="328.4" font-size="7.8" text-anchor="middle" font-weight="normal" fill="#1c1c1c">2</text>
<text x="145.1" y="328.4" font-size="7.8" text-anchor="middle" font-weight="normal" fill="#1c1c1c">4</text>
<text x="154.9" y="328.4" font-size="7.8" text-anchor="middle" font-weight="normal" fill="#1c1c1c">11</text>
<text x="165.3" y="328.4" font-size="7.8" text-anchor="middle" font-weight="normal" fill="#1c1c1c">20</text>
<polyline points="124.5,256.41 134.6,248.38 145.1,252.26 154.9,254.08 165.3,255.63" fill="none" stroke="#2c4874" stroke-width="2.0" stroke-linejoin="round"/>
<polyline points="124.5,262.62 134.6,255.89 145.1,261.59 154.9,262.62 165.3,264.69" fill="none" stroke="#8c1233" stroke-width="2.0" stroke-linejoin="round"/>
<line x1="124.5" y1="255.37" x2="124.5" y2="257.44" stroke="#111" stroke-width="1"/>
<line x1="122.7" y1="255.37" x2="126.3" y2="255.37" stroke="#111" stroke-width="1.1"/>
<line x1="122.7" y1="257.44" x2="126.3" y2="257.44" stroke="#111" stroke-width="1.1"/>
<rect x="122.5" y="254.41" width="4" height="4" fill="#1c2c48" stroke="#0c1220" stroke-width="0.5"/>
<line x1="134.6" y1="247.34" x2="134.6" y2="249.41" stroke="#111" stroke-width="1"/>
<line x1="132.8" y1="247.34" x2="136.4" y2="247.34" stroke="#111" stroke-width="1.1"/>
<line x1="132.8" y1="249.41" x2="136.4" y2="249.41" stroke="#111" stroke-width="1.1"/>
<rect x="132.6" y="246.38" width="4" height="4" fill="#1c2c48" stroke="#0c1220" stroke-width="0.5"/>
<line x1="145.1" y1="251.23" x2="145.1" y2="253.3" stroke="#111" stroke-width="1"/>
<line x1="143.3" y1="251.23" x2="146.9" y2="251.23" stroke="#111" stroke-width="1.1"/>
<line x1="143.3" y1="253.3" x2="146.9" y2="253.3" stroke="#111" stroke-width="1.1"/>
<rect x="143.1" y="250.26" width="4" height="4" fill="#1c2c48" stroke="#0c1220" stroke-width="0.5"/>
<line x1="154.9" y1="253.04" x2="154.9" y2="255.11" stroke="#111" stroke-width="1"/>
<line x1="153.1" y1="253.04" x2="156.7" y2="253.04" stroke="#111" stroke-width="1.1"/>
<line x1="153.1" y1="255.11" x2="156.7" y2="255.11" stroke="#111" stroke-width="1.1"/>
<rect x="152.9" y="252.08" width="4" height="4" fill="#1c2c48" stroke="#0c1220" stroke-width="0.5"/>
<line x1="165.3" y1="254.59" x2="165.3" y2="256.67" stroke="#111" stroke-width="1"/>
<line x1="163.5" y1="254.59" x2="167.1" y2="254.59" stroke="#111" stroke-width="1.1"/>
<line x1="163.5" y1="256.67" x2="167.1" y2="256.67" stroke="#111" stroke-width="1.1"/>
<rect x="163.3" y="253.63" width="4" height="4" fill="#1c2c48" stroke="#0c1220" stroke-width="0.5"/>
<line x1="124.5" y1="261.59" x2="124.5" y2="263.66" stroke="#111" stroke-width="1"/>
<line x1="122.7" y1="261.59" x2="126.3" y2="261.59" stroke="#111" stroke-width="1.1"/>
<line x1="122.7" y1="263.66" x2="126.3" y2="263.66" stroke="#111" stroke-width="1.1"/>
<circle cx="124.5" cy="262.62" r="1.95" fill="#7e1030" stroke="#2a0610" stroke-width="0.6"/>
<line x1="134.6" y1="254.85" x2="134.6" y2="256.93" stroke="#111" stroke-width="1"/>
<line x1="132.8" y1="254.85" x2="136.4" y2="254.85" stroke="#111" stroke-width="1.1"/>
<line x1="132.8" y1="256.93" x2="136.4" y2="256.93" stroke="#111" stroke-width="1.1"/>
<circle cx="134.6" cy="255.89" r="1.95" fill="#7e1030" stroke="#2a0610" stroke-width="0.6"/>
<line x1="145.1" y1="260.55" x2="145.1" y2="262.62" stroke="#111" stroke-width="1"/>
<line x1="143.3" y1="260.55" x2="146.9" y2="260.55" stroke="#111" stroke-width="1.1"/>
<line x1="143.3" y1="262.62" x2="146.9" y2="262.62" stroke="#111" stroke-width="1.1"/>
<circle cx="145.1" cy="261.59" r="1.95" fill="#7e1030" stroke="#2a0610" stroke-width="0.6"/>
<line x1="154.9" y1="261.59" x2="154.9" y2="263.66" stroke="#111" stroke-width="1"/>
<line x1="153.1" y1="261.59" x2="156.7" y2="261.59" stroke="#111" stroke-width="1.1"/>
<line x1="153.1" y1="263.66" x2="156.7" y2="263.66" stroke="#111" stroke-width="1.1"/>
<circle cx="154.9" cy="262.62" r="1.95" fill="#7e1030" stroke="#2a0610" stroke-width="0.6"/>
<line x1="165.3" y1="263.66" x2="165.3" y2="265.73" stroke="#111" stroke-width="1"/>
<line x1="163.5" y1="263.66" x2="167.1" y2="263.66" stroke="#111" stroke-width="1.1"/>
<line x1="163.5" y1="265.73" x2="167.1" y2="265.73" stroke="#111" stroke-width="1.1"/>
<circle cx="165.3" cy="264.69" r="1.95" fill="#7e1030" stroke="#2a0610" stroke-width="0.6"/>
<circle cx="121.3" cy="246" r="1.05" fill="#111" stroke="none" stroke-width="0.6"/>
<circle cx="124.5" cy="246" r="1.05" fill="#111" stroke="none" stroke-width="0.6"/>
<circle cx="127.7" cy="246" r="1.05" fill="#111" stroke="none" stroke-width="0.6"/>
<circle cx="134.4" cy="242.2" r="1.05" fill="#111" stroke="none" stroke-width="0.6"/>
<circle cx="141.8" cy="246.3" r="1.05" fill="#111" stroke="none" stroke-width="0.6"/>
<circle cx="145" cy="246.3" r="1.05" fill="#111" stroke="none" stroke-width="0.6"/>
<circle cx="148.2" cy="246.3" r="1.05" fill="#111" stroke="none" stroke-width="0.6"/>
<circle cx="150.5" cy="250" r="1.05" fill="#111" stroke="none" stroke-width="0.6"/>
<circle cx="153.7" cy="250" r="1.05" fill="#111" stroke="none" stroke-width="0.6"/>
<circle cx="156.9" cy="250" r="1.05" fill="#111" stroke="none" stroke-width="0.6"/>
<circle cx="162.3" cy="244.2" r="1.05" fill="#111" stroke="none" stroke-width="0.6"/>
<circle cx="165.5" cy="244.2" r="1.05" fill="#111" stroke="none" stroke-width="0.6"/>
<circle cx="168.7" cy="244.2" r="1.05" fill="#111" stroke="none" stroke-width="0.6"/>
<text x="145" y="341" font-size="8.2" text-anchor="middle" font-weight="normal" fill="#1a1a1a" textLength="21.6" lengthAdjust="spacingAndGlyphs">Weeks</text>
<text x="302.27" y="22.2" font-size="12.2" font-weight="bold" fill="#000" style="stroke:#000;stroke-width:0.15px;letter-spacing:0">C</text>
<line x1="336.2" y1="34.3" x2="336.2" y2="133.2" stroke="#111" stroke-width="1.4"/>
<line x1="333.2" y1="132.5" x2="336.2" y2="132.5" stroke="#111" stroke-width="1"/>
<text x="330.7" y="135.27" font-size="7.7" text-anchor="end" font-weight="normal" fill="#1c1c1c">0</text>
<line x1="333.2" y1="112.98" x2="336.2" y2="112.98" stroke="#111" stroke-width="1"/>
<text x="330.7" y="115.75" font-size="7.7" text-anchor="end" font-weight="normal" fill="#1c1c1c">5</text>
<line x1="333.2" y1="93.46" x2="336.2" y2="93.46" stroke="#111" stroke-width="1"/>
<text x="330.7" y="96.23" font-size="7.7" text-anchor="end" font-weight="normal" fill="#1c1c1c">10</text>
<line x1="333.2" y1="73.94" x2="336.2" y2="73.94" stroke="#111" stroke-width="1"/>
<text x="330.7" y="76.71" font-size="7.7" text-anchor="end" font-weight="normal" fill="#1c1c1c">15</text>
<line x1="333.2" y1="54.42" x2="336.2" y2="54.42" stroke="#111" stroke-width="1"/>
<text x="330.7" y="57.19" font-size="7.7" text-anchor="end" font-weight="normal" fill="#1c1c1c">20</text>
<line x1="333.2" y1="34.9" x2="336.2" y2="34.9" stroke="#111" stroke-width="1"/>
<text x="330.7" y="37.67" font-size="7.7" text-anchor="end" font-weight="normal" fill="#1c1c1c">25</text>
<line x1="334.8" y1="122.74" x2="336.2" y2="122.74" stroke="#111" stroke-width="0.8"/>
<line x1="334.8" y1="103.22" x2="336.2" y2="103.22" stroke="#111" stroke-width="0.8"/>
<line x1="334.8" y1="83.7" x2="336.2" y2="83.7" stroke="#111" stroke-width="0.8"/>
<line x1="334.8" y1="64.18" x2="336.2" y2="64.18" stroke="#111" stroke-width="0.8"/>
<line x1="334.8" y1="44.66" x2="336.2" y2="44.66" stroke="#111" stroke-width="0.8"/>
<line x1="335.5" y1="132.5" x2="400" y2="132.5" stroke="#111" stroke-width="1.4"/>
<line x1="355.6" y1="132.5" x2="355.6" y2="135.5" stroke="#111" stroke-width="1"/>
<line x1="380.3" y1="132.5" x2="380.3" y2="135.5" stroke="#111" stroke-width="1"/>
<text x="369.2" y="44" font-size="7.2" text-anchor="middle" font-weight="normal" fill="#1a1a1a"><tspan font-style="italic">P</tspan>=0.1625</text>
<text x="315.7" y="82.25" font-size="9.6" text-anchor="middle" font-weight="normal" fill="#1a1a1a" transform="rotate(-90 315.7 82.25)" textLength="81.7" lengthAdjust="spacingAndGlyphs">PB leukocytes (x10<tspan dy="-3.6" font-size="6.4">6</tspan><tspan dy="3.6">/mL)</tspan></text>
<circle cx="355.6" cy="85.5" r="2.6" fill="#781030" stroke="#2a0610" stroke-width="0.7"/>
<circle cx="349.3" cy="96.1" r="2.6" fill="#781030" stroke="#2a0610" stroke-width="0.7"/>
<circle cx="360.5" cy="93.3" r="2.6" fill="#781030" stroke="#2a0610" stroke-width="0.7"/>
<circle cx="351.2" cy="99.8" r="2.6" fill="#781030" stroke="#2a0610" stroke-width="0.7"/>
<circle cx="355.9" cy="97.5" r="2.6" fill="#781030" stroke="#2a0610" stroke-width="0.7"/>
<circle cx="360.5" cy="101.3" r="2.6" fill="#781030" stroke="#2a0610" stroke-width="0.7"/>
<circle cx="355.6" cy="104.6" r="2.6" fill="#781030" stroke="#2a0610" stroke-width="0.7"/>
<line x1="349.3" y1="96.6" x2="364.3" y2="96.6" stroke="#111" stroke-width="1"/>
<line x1="356.8" y1="94.2" x2="356.8" y2="99" stroke="#111" stroke-width="1"/>
<rect x="378" y="55.4" width="4.6" height="4.6" fill="#34416a" stroke="#121a30" stroke-width="0.9"/>
<rect x="378" y="66.4" width="4.6" height="4.6" fill="#34416a" stroke="#121a30" stroke-width="0.9"/>
<rect x="378" y="74.2" width="4.6" height="4.6" fill="#34416a" stroke="#121a30" stroke-width="0.9"/>
<rect x="375" y="89.2" width="4.6" height="4.6" fill="#34416a" stroke="#121a30" stroke-width="0.9"/>
<rect x="381.5" y="87.3" width="4.6" height="4.6" fill="#34416a" stroke="#121a30" stroke-width="0.9"/>
<rect x="374.2" y="97" width="4.6" height="4.6" fill="#34416a" stroke="#121a30" stroke-width="0.9"/>
<rect x="382" y="97.5" width="4.6" height="4.6" fill="#34416a" stroke="#121a30" stroke-width="0.9"/>
<rect x="378" y="106.8" width="4.6" height="4.6" fill="#34416a" stroke="#121a30" stroke-width="0.9"/>
<line x1="372.1" y1="86.6" x2="388.4" y2="86.6" stroke="#111" stroke-width="1"/>
<line x1="380.3" y1="80.6" x2="380.3" y2="92" stroke="#111" stroke-width="1"/>
<line x1="377.1" y1="80.6" x2="383.5" y2="80.6" stroke="#111" stroke-width="1.1"/>
<line x1="377.1" y1="92" x2="383.5" y2="92" stroke="#111" stroke-width="1.1"/>
<text x="355.6" y="145.2" font-size="7.6" text-anchor="middle" font-weight="normal" fill="#1a1a1a">+/+</text>
<text x="380.3" y="145.2" font-size="7.6" text-anchor="middle" font-weight="normal" fill="#1a1a1a">P95H/+</text>
<text x="368.45" y="158.1" font-size="9.8" text-anchor="middle" font-weight="normal" fill="#1a1a1a" textLength="22.7" lengthAdjust="spacingAndGlyphs">20 wks</text>
<line x1="431.2" y1="34.6" x2="431.2" y2="133.1" stroke="#111" stroke-width="1.4"/>
<line x1="428.2" y1="132.4" x2="431.2" y2="132.4" stroke="#111" stroke-width="1"/>
<text x="425.7" y="135.17" font-size="7.7" text-anchor="end" font-weight="normal" fill="#1c1c1c">0</text>
<line x1="428.2" y1="108.1" x2="431.2" y2="108.1" stroke="#111" stroke-width="1"/>
<text x="425.7" y="110.87" font-size="7.7" text-anchor="end" font-weight="normal" fill="#1c1c1c">2</text>
<line x1="428.2" y1="83.8" x2="431.2" y2="83.8" stroke="#111" stroke-width="1"/>
<text x="425.7" y="86.57" font-size="7.7" text-anchor="end" font-weight="normal" fill="#1c1c1c">4</text>
<line x1="428.2" y1="59.5" x2="431.2" y2="59.5" stroke="#111" stroke-width="1"/>
<text x="425.7" y="62.27" font-size="7.7" text-anchor="end" font-weight="normal" fill="#1c1c1c">6</text>
<line x1="428.2" y1="35.2" x2="431.2" y2="35.2" stroke="#111" stroke-width="1"/>
<text x="425.7" y="37.97" font-size="7.7" text-anchor="end" font-weight="normal" fill="#1c1c1c">8</text>
<line x1="429.8" y1="120.25" x2="431.2" y2="120.25" stroke="#111" stroke-width="0.8"/>
<line x1="429.8" y1="95.95" x2="431.2" y2="95.95" stroke="#111" stroke-width="0.8"/>
<line x1="429.8" y1="71.65" x2="431.2" y2="71.65" stroke="#111" stroke-width="0.8"/>
<line x1="429.8" y1="47.35" x2="431.2" y2="47.35" stroke="#111" stroke-width="0.8"/>
<text x="415.2" y="82.45" font-size="9.6" text-anchor="middle" font-weight="normal" fill="#1a1a1a" transform="rotate(-90 415.2 82.45)" textLength="81.3" lengthAdjust="spacingAndGlyphs">PB leukocytes (x10<tspan dy="-3.6" font-size="6.4">6</tspan><tspan dy="3.6">/mL)</tspan></text>
<line x1="430.5" y1="132.4" x2="495.5" y2="132.4" stroke="#111" stroke-width="1.4"/>
<line x1="437.5" y1="132.4" x2="437.5" y2="135.4" stroke="#111" stroke-width="1"/>
<line x1="450.35" y1="132.4" x2="450.35" y2="135.4" stroke="#111" stroke-width="1"/>
<line x1="463.1" y1="132.4" x2="463.1" y2="135.4" stroke="#111" stroke-width="1"/>
<line x1="476.1" y1="132.4" x2="476.1" y2="135.4" stroke="#111" stroke-width="1"/>
<line x1="489" y1="132.4" x2="489" y2="135.4" stroke="#111" stroke-width="1"/>
<rect x="433.5" y="120.49" width="3" height="11.91" fill="#b8122f" stroke="#8a0d24" stroke-width="0.5"/>
<line x1="435" y1="118.06" x2="435" y2="122.92" stroke="#1a1a1a" stroke-width="0.9"/>
<line x1="433.8" y1="118.06" x2="436.2" y2="118.06" stroke="#1a1a1a" stroke-width="1"/>
<line x1="433.8" y1="122.92" x2="436.2" y2="122.92" stroke="#1a1a1a" stroke-width="1"/>
<rect x="438.5" y="111.5" width="3" height="20.9" fill="#2f5590" stroke="#1f3560" stroke-width="0.5"/>
<line x1="440" y1="109.31" x2="440" y2="113.69" stroke="#1a1a1a" stroke-width="0.9"/>
<line x1="438.8" y1="109.31" x2="441.2" y2="109.31" stroke="#1a1a1a" stroke-width="1"/>
<line x1="438.8" y1="113.69" x2="441.2" y2="113.69" stroke="#1a1a1a" stroke-width="1"/>
<rect x="446.35" y="127.78" width="3" height="4.62" fill="#b8122f" stroke="#8a0d24" stroke-width="0.5"/>
<line x1="447.85" y1="126.81" x2="447.85" y2="128.75" stroke="#1a1a1a" stroke-width="0.9"/>
<line x1="446.65" y1="126.81" x2="449.05" y2="126.81" stroke="#1a1a1a" stroke-width="1"/>
<line x1="446.65" y1="128.75" x2="449.05" y2="128.75" stroke="#1a1a1a" stroke-width="1"/>
<rect x="451.35" y="122.92" width="3" height="9.48" fill="#2f5590" stroke="#1f3560" stroke-width="0.5"/>
<line x1="452.85" y1="121.95" x2="452.85" y2="123.89" stroke="#1a1a1a" stroke-width="0.9"/>
<line x1="451.65" y1="121.95" x2="454.05" y2="121.95" stroke="#1a1a1a" stroke-width="1"/>
<line x1="451.65" y1="123.89" x2="454.05" y2="123.89" stroke="#1a1a1a" stroke-width="1"/>
<rect x="459.1" y="70.07" width="3" height="62.33" fill="#b8122f" stroke="#8a0d24" stroke-width="0.5"/>
<line x1="460.6" y1="67.64" x2="460.6" y2="72.5" stroke="#1a1a1a" stroke-width="0.9"/>
<line x1="459.4" y1="67.64" x2="461.8" y2="67.64" stroke="#1a1a1a" stroke-width="1"/>
<line x1="459.4" y1="72.5" x2="461.8" y2="72.5" stroke="#1a1a1a" stroke-width="1"/>
<rect x="464.1" y="54.15" width="3" height="78.25" fill="#2f5590" stroke="#1f3560" stroke-width="0.5"/>
<line x1="465.6" y1="40.18" x2="465.6" y2="68.13" stroke="#1a1a1a" stroke-width="0.9"/>
<line x1="464.4" y1="40.18" x2="466.8" y2="40.18" stroke="#1a1a1a" stroke-width="1"/>
<line x1="464.4" y1="68.13" x2="466.8" y2="68.13" stroke="#1a1a1a" stroke-width="1"/>
<rect x="472.1" y="125.96" width="3" height="6.44" fill="#b8122f" stroke="#8a0d24" stroke-width="0.5"/>
<line x1="473.6" y1="124.75" x2="473.6" y2="127.18" stroke="#1a1a1a" stroke-width="0.9"/>
<line x1="472.4" y1="124.75" x2="474.8" y2="124.75" stroke="#1a1a1a" stroke-width="1"/>
<line x1="472.4" y1="127.18" x2="474.8" y2="127.18" stroke="#1a1a1a" stroke-width="1"/>
<rect x="477.1" y="118.06" width="3" height="14.34" fill="#2f5590" stroke="#1f3560" stroke-width="0.5"/>
<line x1="478.6" y1="115.15" x2="478.6" y2="120.98" stroke="#1a1a1a" stroke-width="0.9"/>
<line x1="477.4" y1="115.15" x2="479.8" y2="115.15" stroke="#1a1a1a" stroke-width="1"/>
<line x1="477.4" y1="120.98" x2="479.8" y2="120.98" stroke="#1a1a1a" stroke-width="1"/>
<rect x="485" y="123.9" width="3" height="8.5" fill="#b8122f" stroke="#8a0d24" stroke-width="0.5"/>
<line x1="486.5" y1="122.44" x2="486.5" y2="125.35" stroke="#1a1a1a" stroke-width="0.9"/>
<line x1="485.3" y1="122.44" x2="487.7" y2="122.44" stroke="#1a1a1a" stroke-width="1"/>
<line x1="485.3" y1="125.35" x2="487.7" y2="125.35" stroke="#1a1a1a" stroke-width="1"/>
<rect x="490" y="121.34" width="3" height="11.06" fill="#2f5590" stroke="#1f3560" stroke-width="0.5"/>
<line x1="491.5" y1="120.13" x2="491.5" y2="122.56" stroke="#1a1a1a" stroke-width="0.9"/>
<line x1="490.3" y1="120.13" x2="492.7" y2="120.13" stroke="#1a1a1a" stroke-width="1"/>
<line x1="490.3" y1="122.56" x2="492.7" y2="122.56" stroke="#1a1a1a" stroke-width="1"/>
<circle cx="436.7" cy="104.2" r="1.05" fill="#111" stroke="none" stroke-width="0.6"/>
<circle cx="449.5" cy="118" r="1.05" fill="#111" stroke="none" stroke-width="0.6"/>
<circle cx="475.2" cy="109.4" r="1.05" fill="#111" stroke="none" stroke-width="0.6"/>
<rect x="473.6" y="35" width="3.9" height="4" fill="#b8122f" stroke="none" stroke-width="0.6"/>
<rect x="473.6" y="43" width="3.9" height="4" fill="#2f5590" stroke="none" stroke-width="0.6"/>
<text x="480.2" y="39.8" font-size="7.6" text-anchor="start" font-weight="normal" fill="#1a1a1a">+/+</text>
<text x="480.2" y="47.6" font-size="7.6" text-anchor="start" font-weight="normal" fill="#1a1a1a">P95H/+</text>
<text x="439.3" y="140.5" font-size="7.8" text-anchor="end" font-weight="normal" fill="#1a1a1a" transform="rotate(-45 439.3 140.5)">Grans</text>
<text x="453.1" y="140.5" font-size="7.8" text-anchor="end" font-weight="normal" fill="#1a1a1a" transform="rotate(-45 453.1 140.5)">Macro</text>
<text x="465.4" y="140.5" font-size="7.8" text-anchor="end" font-weight="normal" fill="#1a1a1a" transform="rotate(-45 465.4 140.5)">B cells</text>
<text x="479.5" y="140.5" font-size="7.8" text-anchor="end" font-weight="normal" fill="#1a1a1a" transform="rotate(-45 479.5 140.5)" textLength="40" lengthAdjust="spacingAndGlyphs">CD4 T cells</text>
<text x="495.9" y="140.5" font-size="7.8" text-anchor="end" font-weight="normal" fill="#1a1a1a" transform="rotate(-45 495.9 140.5)" textLength="38.6" lengthAdjust="spacingAndGlyphs">CD8 Tcells</text>
<text x="189.5" y="230.85" font-size="12.2" font-weight="bold" fill="#000" style="stroke:#000;stroke-width:0.15px;letter-spacing:0">D</text>
<rect x="227.8" y="235.3" width="40.7" height="11.2" fill="#c6d9f1" stroke="#6f7a8c" stroke-width="0.8"/>
<line x1="227.7" y1="246.4" x2="227.7" y2="278.8" stroke="#7a8598" stroke-width="0.8"/>
<line x1="268.6" y1="246.4" x2="268.6" y2="278.8" stroke="#7a8598" stroke-width="0.8"/>
<text x="248.5" y="240" font-size="4.6" text-anchor="middle" font-weight="normal" fill="#222" textLength="19" lengthAdjust="spacingAndGlyphs" style="font-family:'Liberation Serif', serif">Tam chow</text>
<text x="248.5" y="244.3" font-size="4.6" text-anchor="middle" font-weight="normal" fill="#222" textLength="22.5" lengthAdjust="spacingAndGlyphs" style="font-family:'Liberation Serif', serif">(400mg/kg)</text>
<line x1="218.3" y1="235.2" x2="218.3" y2="334.2" stroke="#111" stroke-width="1.4"/>
<line x1="215.3" y1="333.5" x2="218.3" y2="333.5" stroke="#111" stroke-width="1"/>
<text x="212.8" y="336.27" font-size="7.7" text-anchor="end" font-weight="normal" fill="#1c1c1c">0</text>
<line x1="215.3" y1="313.96" x2="218.3" y2="313.96" stroke="#111" stroke-width="1"/>
<text x="212.8" y="316.73" font-size="7.7" text-anchor="end" font-weight="normal" fill="#1c1c1c">10</text>
<line x1="215.3" y1="294.42" x2="218.3" y2="294.42" stroke="#111" stroke-width="1"/>
<text x="212.8" y="297.19" font-size="7.7" text-anchor="end" font-weight="normal" fill="#1c1c1c">20</text>
<line x1="215.3" y1="274.88" x2="218.3" y2="274.88" stroke="#111" stroke-width="1"/>
<text x="212.8" y="277.65" font-size="7.7" text-anchor="end" font-weight="normal" fill="#1c1c1c">30</text>
<line x1="215.3" y1="255.34" x2="218.3" y2="255.34" stroke="#111" stroke-width="1"/>
<text x="212.8" y="258.11" font-size="7.7" text-anchor="end" font-weight="normal" fill="#1c1c1c">40</text>
<line x1="215.3" y1="235.8" x2="218.3" y2="235.8" stroke="#111" stroke-width="1"/>
<text x="212.8" y="238.57" font-size="7.7" text-anchor="end" font-weight="normal" fill="#1c1c1c">50</text>
<line x1="216.9" y1="323.73" x2="218.3" y2="323.73" stroke="#111" stroke-width="0.8"/>
<line x1="216.9" y1="304.19" x2="218.3" y2="304.19" stroke="#111" stroke-width="0.8"/>
<line x1="216.9" y1="284.65" x2="218.3" y2="284.65" stroke="#111" stroke-width="0.8"/>
<line x1="216.9" y1="265.11" x2="218.3" y2="265.11" stroke="#111" stroke-width="0.8"/>
<line x1="216.9" y1="245.57" x2="218.3" y2="245.57" stroke="#111" stroke-width="0.8"/>
<line x1="217.6" y1="333.5" x2="316.5" y2="333.5" stroke="#111" stroke-width="1.4"/>
<line x1="229.6" y1="333.5" x2="229.6" y2="336.5" stroke="#111" stroke-width="1"/>
<line x1="249" y1="333.5" x2="249" y2="336.5" stroke="#111" stroke-width="1"/>
<line x1="268.3" y1="333.5" x2="268.3" y2="336.5" stroke="#111" stroke-width="1"/>
<line x1="288" y1="333.5" x2="288" y2="336.5" stroke="#111" stroke-width="1"/>
<line x1="306.9" y1="333.5" x2="306.9" y2="336.5" stroke="#111" stroke-width="1"/>
<text x="229.6" y="346.8" font-size="8" text-anchor="middle" font-weight="normal" fill="#1c1c1c">0</text>
<text x="249" y="346.8" font-size="8" text-anchor="middle" font-weight="normal" fill="#1c1c1c">2</text>
<text x="268.3" y="346.8" font-size="8" text-anchor="middle" font-weight="normal" fill="#1c1c1c">4</text>
<text x="288" y="346.8" font-size="8" text-anchor="middle" font-weight="normal" fill="#1c1c1c">11</text>
<text x="306.9" y="346.8" font-size="8" text-anchor="middle" font-weight="normal" fill="#1c1c1c">20</text>
<text x="268.5" y="359.4" font-size="8.4" text-anchor="middle" font-weight="normal" fill="#1a1a1a" textLength="22.1" lengthAdjust="spacingAndGlyphs">Weeks</text>
<text x="199.6" y="283.2" font-size="9.6" text-anchor="middle" font-weight="normal" fill="#1a1a1a" transform="rotate(-90 199.6 283.2)" textLength="77.8" lengthAdjust="spacingAndGlyphs">PB eYFP (% leukocytes)</text>
<polyline points="229.6,333.5 249,327.25 268.3,315.91 288,302.24 306.9,276.83" fill="none" stroke="#2c4874" stroke-width="2.0"/>
<polyline points="229.6,333.5 249,330.57 268.3,313.57 288,288.17 306.9,260.81" fill="none" stroke="#8c1233" stroke-width="2.0"/>
<line x1="229.6" y1="332.72" x2="229.6" y2="333.5" stroke="#111" stroke-width="1"/>
<line x1="227.8" y1="332.72" x2="231.4" y2="332.72" stroke="#111" stroke-width="1.1"/>
<line x1="227.8" y1="333.5" x2="231.4" y2="333.5" stroke="#111" stroke-width="1.1"/>
<rect x="227.3" y="331.2" width="4.6" height="4.6" fill="#1c2c48" stroke="#0c1220" stroke-width="0.5"/>
<line x1="249" y1="325.29" x2="249" y2="329.2" stroke="#111" stroke-width="1"/>
<line x1="247.2" y1="325.29" x2="250.8" y2="325.29" stroke="#111" stroke-width="1.1"/>
<line x1="247.2" y1="329.2" x2="250.8" y2="329.2" stroke="#111" stroke-width="1.1"/>
<rect x="246.7" y="324.95" width="4.6" height="4.6" fill="#1c2c48" stroke="#0c1220" stroke-width="0.5"/>
<line x1="268.3" y1="312.98" x2="268.3" y2="318.85" stroke="#111" stroke-width="1"/>
<line x1="266.5" y1="312.98" x2="270.1" y2="312.98" stroke="#111" stroke-width="1.1"/>
<line x1="266.5" y1="318.85" x2="270.1" y2="318.85" stroke="#111" stroke-width="1.1"/>
<rect x="266" y="313.61" width="4.6" height="4.6" fill="#1c2c48" stroke="#0c1220" stroke-width="0.5"/>
<line x1="288" y1="298.33" x2="288" y2="306.14" stroke="#111" stroke-width="1"/>
<line x1="286.2" y1="298.33" x2="289.8" y2="298.33" stroke="#111" stroke-width="1.1"/>
<line x1="286.2" y1="306.14" x2="289.8" y2="306.14" stroke="#111" stroke-width="1.1"/>
<rect x="285.7" y="299.94" width="4.6" height="4.6" fill="#1c2c48" stroke="#0c1220" stroke-width="0.5"/>
<line x1="306.9" y1="267.06" x2="306.9" y2="286.6" stroke="#111" stroke-width="1"/>
<line x1="305.1" y1="267.06" x2="308.7" y2="267.06" stroke="#111" stroke-width="1.1"/>
<line x1="305.1" y1="286.6" x2="308.7" y2="286.6" stroke="#111" stroke-width="1.1"/>
<rect x="304.6" y="274.53" width="4.6" height="4.6" fill="#1c2c48" stroke="#0c1220" stroke-width="0.5"/>
<line x1="229.6" y1="332.72" x2="229.6" y2="333.5" stroke="#111" stroke-width="1"/>
<line x1="227.8" y1="332.72" x2="231.4" y2="332.72" stroke="#111" stroke-width="1.1"/>
<line x1="227.8" y1="333.5" x2="231.4" y2="333.5" stroke="#111" stroke-width="1.1"/>
<circle cx="229.6" cy="333.5" r="2.4" fill="#7e1030" stroke="#2a0610" stroke-width="0.6"/>
<line x1="249" y1="328.62" x2="249" y2="332.52" stroke="#111" stroke-width="1"/>
<line x1="247.2" y1="328.62" x2="250.8" y2="328.62" stroke="#111" stroke-width="1.1"/>
<line x1="247.2" y1="332.52" x2="250.8" y2="332.52" stroke="#111" stroke-width="1.1"/>
<circle cx="249" cy="330.57" r="2.4" fill="#7e1030" stroke="#2a0610" stroke-width="0.6"/>
<line x1="268.3" y1="310.64" x2="268.3" y2="316.5" stroke="#111" stroke-width="1"/>
<line x1="266.5" y1="310.64" x2="270.1" y2="310.64" stroke="#111" stroke-width="1.1"/>
<line x1="266.5" y1="316.5" x2="270.1" y2="316.5" stroke="#111" stroke-width="1.1"/>
<circle cx="268.3" cy="313.57" r="2.4" fill="#7e1030" stroke="#2a0610" stroke-width="0.6"/>
<line x1="288" y1="282.31" x2="288" y2="294.03" stroke="#111" stroke-width="1"/>
<line x1="286.2" y1="282.31" x2="289.8" y2="282.31" stroke="#111" stroke-width="1.1"/>
<line x1="286.2" y1="294.03" x2="289.8" y2="294.03" stroke="#111" stroke-width="1.1"/>
<circle cx="288" cy="288.17" r="2.4" fill="#7e1030" stroke="#2a0610" stroke-width="0.6"/>
<line x1="306.9" y1="249.09" x2="306.9" y2="272.54" stroke="#111" stroke-width="1"/>
<line x1="305.1" y1="249.09" x2="308.7" y2="249.09" stroke="#111" stroke-width="1.1"/>
<line x1="305.1" y1="272.54" x2="308.7" y2="272.54" stroke="#111" stroke-width="1.1"/>
<circle cx="306.9" cy="260.81" r="2.4" fill="#7e1030" stroke="#2a0610" stroke-width="0.6"/>
<rect x="294.5" y="316.8" width="3.8" height="3.8" fill="#7e1030" stroke="#2a0610" stroke-width="0.5"/>
<rect x="294.5" y="325.4" width="3.8" height="3.8" fill="#1c2c48" stroke="#0c1220" stroke-width="0.5"/>
<text x="300.4" y="321.4" font-size="7.6" text-anchor="start" font-weight="normal" fill="#1a1a1a">+/+</text>
<text x="300.4" y="330" font-size="7.6" text-anchor="start" font-weight="normal" fill="#1a1a1a">P95H/+</text>
<text x="326.82" y="230.75" font-size="12.2" font-weight="bold" fill="#000" style="stroke:#000;stroke-width:0.15px;letter-spacing:0">E</text>
<rect x="349.2" y="222.4" width="55.2" height="111.2" fill="#fff" stroke="#111" stroke-width="1"/>
<defs><linearGradient id="hg0" gradientUnits="userSpaceOnUse" x1="0" y1="245.4" x2="0" y2="258.4"><stop offset="0" stop-color="#e2e6f3"/><stop offset="0.45" stop-color="#e2e6f3"/><stop offset="1" stop-color="#ffffff"/></linearGradient></defs>
<path d="M349.8,251.57 L350.57,251.62 L351.35,251.67 L352.12,251.72 L352.9,251.76 L353.67,251.79 L354.45,251.83 L355.22,251.85 L355.99,251.87 L356.77,251.88 L357.54,251.88 L358.32,251.88 L359.09,251.86 L359.87,251.83 L360.64,251.78 L361.41,251.73 L362.19,251.66 L362.96,251.57 L363.74,251.47 L364.51,251.36 L365.29,251.23 L366.06,251.09 L366.83,250.94 L367.61,250.77 L368.38,250.6 L369.16,250.42 L369.93,250.24 L370.71,250.06 L371.48,249.88 L372.25,249.71 L373.03,249.54 L373.8,249.4 L374.58,249.26 L375.35,249.15 L376.13,249.05 L376.9,248.97 L377.67,248.9 L378.45,248.84 L379.22,248.75 L380,248.62 L380.77,248.39 L381.55,248.02 L382.32,247.39 L383.09,246.4 L383.87,244.93 L384.64,242.84 L385.42,240.1 L386.19,236.93 L386.8,235.4 L386.97,235.14 L387.74,236.92 L388.51,238.97 L389.29,241.01 L390.06,242.92 L390.84,244.66 L391.61,246.21 L392.39,247.57 L393.16,248.73 L393.93,249.73 L394.71,250.57 L395.48,251.28 L396.26,251.87 L397.03,252.36 L397.81,252.76 L398.58,253.09 L399.35,253.36 L400.13,253.58 L400.9,253.76 L401.68,253.9 L402.45,254.02 L403.23,254.11 L404,254.18 L404,333.3 L349.8,333.3 Z" fill="url(#hg0)" stroke="none" stroke-width="0"/>
<path d="M349.8,251.57 L350.57,251.62 L351.35,251.67 L352.12,251.72 L352.9,251.76 L353.67,251.79 L354.45,251.83 L355.22,251.85 L355.99,251.87 L356.77,251.88 L357.54,251.88 L358.32,251.88 L359.09,251.86 L359.87,251.83 L360.64,251.78 L361.41,251.73 L362.19,251.66 L362.96,251.57 L363.74,251.47 L364.51,251.36 L365.29,251.23 L366.06,251.09 L366.83,250.94 L367.61,250.77 L368.38,250.6 L369.16,250.42 L369.93,250.24 L370.71,250.06 L371.48,249.88 L372.25,249.71 L373.03,249.54 L373.8,249.4 L374.58,249.26 L375.35,249.15 L376.13,249.05 L376.9,248.97 L377.67,248.9 L378.45,248.84 L379.22,248.75 L380,248.62 L380.77,248.39 L381.55,248.02 L382.32,247.39 L383.09,246.4 L383.87,244.93 L384.64,242.84 L385.42,240.1 L386.19,236.93 L386.8,235.4 L386.97,235.14 L387.74,236.92 L388.51,238.97 L389.29,241.01 L390.06,242.92 L390.84,244.66 L391.61,246.21 L392.39,247.57 L393.16,248.73 L393.93,249.73 L394.71,250.57 L395.48,251.28 L396.26,251.87 L397.03,252.36 L397.81,252.76 L398.58,253.09 L399.35,253.36 L400.13,253.58 L400.9,253.76 L401.68,253.9 L402.45,254.02 L403.23,254.11 L404,254.18" fill="none" stroke="#364a78" stroke-width="1.15" stroke-linejoin="round"/>
<defs><linearGradient id="hg1" gradientUnits="userSpaceOnUse" x1="0" y1="255.4" x2="0" y2="268.4"><stop offset="0" stop-color="#d6dcef"/><stop offset="0.45" stop-color="#d6dcef"/><stop offset="1" stop-color="#ffffff"/></linearGradient></defs>
<path d="M349.8,264.57 L350.57,264.56 L351.35,264.55 L352.12,264.53 L352.9,264.51 L353.67,264.49 L354.45,264.46 L355.22,264.43 L355.99,264.39 L356.77,264.35 L357.54,264.3 L358.32,264.24 L359.09,264.17 L359.87,264.09 L360.64,264 L361.41,263.9 L362.19,263.78 L362.96,263.66 L363.74,263.52 L364.51,263.37 L365.29,263.21 L366.06,263.03 L366.83,262.85 L367.61,262.65 L368.38,262.45 L369.16,262.25 L369.93,262.04 L370.71,261.83 L371.48,261.63 L372.25,261.43 L373.03,261.24 L373.8,261.05 L374.58,260.88 L375.35,260.72 L376.13,260.55 L376.9,260.38 L377.67,260.17 L378.45,259.91 L379.22,259.53 L380,258.98 L380.77,258.14 L381.55,256.92 L382.32,255.17 L383.09,252.79 L383.87,249.81 L384.64,246.6 L385,245.5 L385.42,246.25 L386.19,248.07 L386.97,250.05 L387.74,251.97 L388.51,253.76 L389.29,255.38 L390.06,256.82 L390.84,258.07 L391.61,259.14 L392.39,260.06 L393.16,260.83 L393.93,261.48 L394.71,262.02 L395.48,262.47 L396.26,262.84 L397.03,263.14 L397.81,263.39 L398.58,263.59 L399.35,263.76 L400.13,263.89 L400.9,263.99 L401.68,264.08 L402.45,264.15 L403.23,264.2 L404,264.25 L404,333.3 L349.8,333.3 Z" fill="url(#hg1)" stroke="none" stroke-width="0"/>
<path d="M349.8,264.57 L350.57,264.56 L351.35,264.55 L352.12,264.53 L352.9,264.51 L353.67,264.49 L354.45,264.46 L355.22,264.43 L355.99,264.39 L356.77,264.35 L357.54,264.3 L358.32,264.24 L359.09,264.17 L359.87,264.09 L360.64,264 L361.41,263.9 L362.19,263.78 L362.96,263.66 L363.74,263.52 L364.51,263.37 L365.29,263.21 L366.06,263.03 L366.83,262.85 L367.61,262.65 L368.38,262.45 L369.16,262.25 L369.93,262.04 L370.71,261.83 L371.48,261.63 L372.25,261.43 L373.03,261.24 L373.8,261.05 L374.58,260.88 L375.35,260.72 L376.13,260.55 L376.9,260.38 L377.67,260.17 L378.45,259.91 L379.22,259.53 L380,258.98 L380.77,258.14 L381.55,256.92 L382.32,255.17 L383.09,252.79 L383.87,249.81 L384.64,246.6 L385,245.5 L385.42,246.25 L386.19,248.07 L386.97,250.05 L387.74,251.97 L388.51,253.76 L389.29,255.38 L390.06,256.82 L390.84,258.07 L391.61,259.14 L392.39,260.06 L393.16,260.83 L393.93,261.48 L394.71,262.02 L395.48,262.47 L396.26,262.84 L397.03,263.14 L397.81,263.39 L398.58,263.59 L399.35,263.76 L400.13,263.89 L400.9,263.99 L401.68,264.08 L402.45,264.15 L403.23,264.2 L404,264.25" fill="none" stroke="#364a78" stroke-width="1.15" stroke-linejoin="round"/>
<defs><linearGradient id="hg2" gradientUnits="userSpaceOnUse" x1="0" y1="265.4" x2="0" y2="278.4"><stop offset="0" stop-color="#c3cce8"/><stop offset="0.45" stop-color="#c3cce8"/><stop offset="1" stop-color="#ffffff"/></linearGradient></defs>
<path d="M349.8,272.48 L350.57,272.5 L351.35,272.5 L352.12,272.42 L352.9,272.2 L353.67,271.82 L354.45,271.37 L355.22,271.08 L355.99,271.14 L356.77,271.52 L357.54,271.99 L358.32,272.34 L359.09,272.52 L359.87,272.57 L360.64,272.56 L361.41,272.51 L362.19,272.46 L362.96,272.38 L363.74,272.3 L364.51,272.21 L365.29,272.1 L366.06,271.99 L366.83,271.86 L367.61,271.73 L368.38,271.59 L369.16,271.45 L369.93,271.3 L370.71,271.16 L371.48,271.01 L372.25,270.87 L373.03,270.74 L373.8,270.62 L374.58,270.51 L375.35,270.42 L376.13,270.34 L376.9,270.27 L377.67,270.2 L378.45,270.13 L379.22,270.04 L380,269.9 L380.77,269.66 L381.55,269.27 L382.32,268.63 L383.09,267.64 L383.87,266.16 L384.64,264.05 L385.42,261.28 L386.19,258.01 L386.9,255.8 L386.97,255.54 L387.74,257.2 L388.51,259.21 L389.29,261.23 L390.06,263.13 L390.84,264.87 L391.61,266.41 L392.39,267.76 L393.16,268.92 L393.93,269.91 L394.71,270.74 L395.48,271.43 L396.26,272.01 L397.03,272.48 L397.81,272.87 L398.58,273.18 L399.35,273.44 L400.13,273.65 L400.9,273.81 L401.68,273.95 L402.45,274.05 L403.23,274.13 L404,274.2 L404,333.3 L349.8,333.3 Z" fill="url(#hg2)" stroke="none" stroke-width="0"/>
<path d="M349.8,272.48 L350.57,272.5 L351.35,272.5 L352.12,272.42 L352.9,272.2 L353.67,271.82 L354.45,271.37 L355.22,271.08 L355.99,271.14 L356.77,271.52 L357.54,271.99 L358.32,272.34 L359.09,272.52 L359.87,272.57 L360.64,272.56 L361.41,272.51 L362.19,272.46 L362.96,272.38 L363.74,272.3 L364.51,272.21 L365.29,272.1 L366.06,271.99 L366.83,271.86 L367.61,271.73 L368.38,271.59 L369.16,271.45 L369.93,271.3 L370.71,271.16 L371.48,271.01 L372.25,270.87 L373.03,270.74 L373.8,270.62 L374.58,270.51 L375.35,270.42 L376.13,270.34 L376.9,270.27 L377.67,270.2 L378.45,270.13 L379.22,270.04 L380,269.9 L380.77,269.66 L381.55,269.27 L382.32,268.63 L383.09,267.64 L383.87,266.16 L384.64,264.05 L385.42,261.28 L386.19,258.01 L386.9,255.8 L386.97,255.54 L387.74,257.2 L388.51,259.21 L389.29,261.23 L390.06,263.13 L390.84,264.87 L391.61,266.41 L392.39,267.76 L393.16,268.92 L393.93,269.91 L394.71,270.74 L395.48,271.43 L396.26,272.01 L397.03,272.48 L397.81,272.87 L398.58,273.18 L399.35,273.44 L400.13,273.65 L400.9,273.81 L401.68,273.95 L402.45,274.05 L403.23,274.13 L404,274.2" fill="none" stroke="#364a78" stroke-width="1.15" stroke-linejoin="round"/>
<defs><linearGradient id="hg3" gradientUnits="userSpaceOnUse" x1="0" y1="275.4" x2="0" y2="288.4"><stop offset="0" stop-color="#aab7dd"/><stop offset="0.45" stop-color="#aab7dd"/><stop offset="1" stop-color="#ffffff"/></linearGradient></defs>
<path d="M349.8,283.17 L350.57,283.19 L351.35,283.2 L352.12,283.21 L352.9,283.22 L353.67,283.23 L354.45,283.22 L355.22,283.22 L355.99,283.2 L356.77,283.18 L357.54,283.15 L358.32,283.11 L359.09,283.06 L359.87,283 L360.64,282.93 L361.41,282.84 L362.19,282.74 L362.96,282.63 L363.74,282.5 L364.51,282.35 L365.29,282.2 L366.06,282.03 L366.83,281.84 L367.61,281.65 L368.38,281.45 L369.16,281.24 L369.93,281.04 L370.71,280.83 L371.48,280.62 L372.25,280.42 L373.03,280.24 L373.8,280.06 L374.58,279.9 L375.35,279.76 L376.13,279.64 L376.9,279.54 L377.67,279.44 L378.45,279.35 L379.22,279.24 L380,279.08 L380.77,278.83 L381.55,278.42 L382.32,277.76 L383.09,276.73 L383.87,275.2 L384.64,273.04 L385.42,270.23 L386.19,266.97 L386.8,265.1 L386.97,265.13 L387.74,266.92 L388.51,268.98 L389.29,271.03 L390.06,272.96 L390.84,274.71 L391.61,276.27 L392.39,277.63 L393.16,278.8 L393.93,279.8 L394.71,280.64 L395.48,281.34 L396.26,281.93 L397.03,282.41 L397.81,282.8 L398.58,283.13 L399.35,283.39 L400.13,283.6 L400.9,283.78 L401.68,283.91 L402.45,284.02 L403.23,284.11 L404,284.18 L404,333.3 L349.8,333.3 Z" fill="url(#hg3)" stroke="none" stroke-width="0"/>
<path d="M349.8,283.17 L350.57,283.19 L351.35,283.2 L352.12,283.21 L352.9,283.22 L353.67,283.23 L354.45,283.22 L355.22,283.22 L355.99,283.2 L356.77,283.18 L357.54,283.15 L358.32,283.11 L359.09,283.06 L359.87,283 L360.64,282.93 L361.41,282.84 L362.19,282.74 L362.96,282.63 L363.74,282.5 L364.51,282.35 L365.29,282.2 L366.06,282.03 L366.83,281.84 L367.61,281.65 L368.38,281.45 L369.16,281.24 L369.93,281.04 L370.71,280.83 L371.48,280.62 L372.25,280.42 L373.03,280.24 L373.8,280.06 L374.58,279.9 L375.35,279.76 L376.13,279.64 L376.9,279.54 L377.67,279.44 L378.45,279.35 L379.22,279.24 L380,279.08 L380.77,278.83 L381.55,278.42 L382.32,277.76 L383.09,276.73 L383.87,275.2 L384.64,273.04 L385.42,270.23 L386.19,266.97 L386.8,265.1 L386.97,265.13 L387.74,266.92 L388.51,268.98 L389.29,271.03 L390.06,272.96 L390.84,274.71 L391.61,276.27 L392.39,277.63 L393.16,278.8 L393.93,279.8 L394.71,280.64 L395.48,281.34 L396.26,281.93 L397.03,282.41 L397.81,282.8 L398.58,283.13 L399.35,283.39 L400.13,283.6 L400.9,283.78 L401.68,283.91 L402.45,284.02 L403.23,284.11 L404,284.18" fill="none" stroke="#364a78" stroke-width="1.15" stroke-linejoin="round"/>
<defs><linearGradient id="hg4" gradientUnits="userSpaceOnUse" x1="0" y1="284.9" x2="0" y2="297.9"><stop offset="0" stop-color="#8e9fcf"/><stop offset="0.45" stop-color="#8e9fcf"/><stop offset="1" stop-color="#ffffff"/></linearGradient></defs>
<path d="M349.8,292.57 L350.57,292.59 L351.35,292.61 L352.12,292.63 L352.9,292.64 L353.67,292.65 L354.45,292.65 L355.22,292.65 L355.99,292.64 L356.77,292.63 L357.54,292.61 L358.32,292.58 L359.09,292.54 L359.87,292.49 L360.64,292.43 L361.41,292.35 L362.19,292.27 L362.96,292.17 L363.74,292.06 L364.51,291.94 L365.29,291.8 L366.06,291.65 L366.83,291.5 L367.61,291.33 L368.38,291.15 L369.16,290.98 L369.93,290.79 L370.71,290.61 L371.48,290.43 L372.25,290.26 L373.03,290.1 L373.8,289.95 L374.58,289.81 L375.35,289.69 L376.13,289.58 L376.9,289.49 L377.67,289.4 L378.45,289.31 L379.22,289.2 L380,289.04 L380.77,288.77 L381.55,288.34 L382.32,287.65 L383.09,286.58 L383.87,285 L384.64,282.78 L385.42,279.87 L386.19,276.52 L386.8,274.6 L386.97,274.61 L387.74,276.41 L388.51,278.49 L389.29,280.55 L390.06,282.49 L390.84,284.26 L391.61,285.82 L392.39,287.18 L393.16,288.36 L393.93,289.35 L394.71,290.19 L395.48,290.89 L396.26,291.47 L397.03,291.95 L397.81,292.34 L398.58,292.66 L399.35,292.92 L400.13,293.13 L400.9,293.3 L401.68,293.43 L402.45,293.54 L403.23,293.62 L404,293.69 L404,333.3 L349.8,333.3 Z" fill="url(#hg4)" stroke="none" stroke-width="0"/>
<path d="M349.8,292.57 L350.57,292.59 L351.35,292.61 L352.12,292.63 L352.9,292.64 L353.67,292.65 L354.45,292.65 L355.22,292.65 L355.99,292.64 L356.77,292.63 L357.54,292.61 L358.32,292.58 L359.09,292.54 L359.87,292.49 L360.64,292.43 L361.41,292.35 L362.19,292.27 L362.96,292.17 L363.74,292.06 L364.51,291.94 L365.29,291.8 L366.06,291.65 L366.83,291.5 L367.61,291.33 L368.38,291.15 L369.16,290.98 L369.93,290.79 L370.71,290.61 L371.48,290.43 L372.25,290.26 L373.03,290.1 L373.8,289.95 L374.58,289.81 L375.35,289.69 L376.13,289.58 L376.9,289.49 L377.67,289.4 L378.45,289.31 L379.22,289.2 L380,289.04 L380.77,288.77 L381.55,288.34 L382.32,287.65 L383.09,286.58 L383.87,285 L384.64,282.78 L385.42,279.87 L386.19,276.52 L386.8,274.6 L386.97,274.61 L387.74,276.41 L388.51,278.49 L389.29,280.55 L390.06,282.49 L390.84,284.26 L391.61,285.82 L392.39,287.18 L393.16,288.36 L393.93,289.35 L394.71,290.19 L395.48,290.89 L396.26,291.47 L397.03,291.95 L397.81,292.34 L398.58,292.66 L399.35,292.92 L400.13,293.13 L400.9,293.3 L401.68,293.43 L402.45,293.54 L403.23,293.62 L404,293.69" fill="none" stroke="#364a78" stroke-width="1.15" stroke-linejoin="round"/>
<defs><linearGradient id="hg5" gradientUnits="userSpaceOnUse" x1="0" y1="295" x2="0" y2="308"><stop offset="0" stop-color="#f3cccc"/><stop offset="0.45" stop-color="#f3cccc"/><stop offset="1" stop-color="#ffffff"/></linearGradient></defs>
<path d="M349.8,302.27 L350.57,302.29 L351.35,302.32 L352.12,302.34 L352.9,302.35 L353.67,302.37 L354.45,302.37 L355.22,302.37 L355.99,302.36 L356.77,302.35 L357.54,302.32 L358.32,302.29 L359.09,302.24 L359.87,302.18 L360.64,302.1 L361.41,302.01 L362.19,301.91 L362.96,301.79 L363.74,301.65 L364.51,301.5 L365.29,301.33 L366.06,301.15 L366.83,300.95 L367.61,300.74 L368.38,300.53 L369.16,300.3 L369.93,300.08 L370.71,299.85 L371.48,299.63 L372.25,299.41 L373.03,299.2 L373.8,299.01 L374.58,298.83 L375.35,298.67 L376.13,298.52 L376.9,298.38 L377.67,298.24 L378.45,298.09 L379.22,297.9 L380,297.64 L380.77,297.27 L381.55,296.73 L382.32,295.96 L383.09,294.89 L383.87,293.45 L384.64,291.61 L385.42,289.47 L386.19,287.41 L386.4,287.4 L386.97,288.02 L387.74,289.7 L388.51,291.45 L389.29,293.13 L390.06,294.69 L390.84,296.1 L391.61,297.34 L392.39,298.43 L393.16,299.37 L393.93,300.17 L394.71,300.84 L395.48,301.41 L396.26,301.89 L397.03,302.29 L397.81,302.62 L398.58,302.89 L399.35,303.11 L400.13,303.3 L400.9,303.44 L401.68,303.57 L402.45,303.66 L403.23,303.74 L404,303.8 L404,333.3 L349.8,333.3 Z" fill="url(#hg5)" stroke="none" stroke-width="0"/>
<path d="M349.8,302.27 L350.57,302.29 L351.35,302.32 L352.12,302.34 L352.9,302.35 L353.67,302.37 L354.45,302.37 L355.22,302.37 L355.99,302.36 L356.77,302.35 L357.54,302.32 L358.32,302.29 L359.09,302.24 L359.87,302.18 L360.64,302.1 L361.41,302.01 L362.19,301.91 L362.96,301.79 L363.74,301.65 L364.51,301.5 L365.29,301.33 L366.06,301.15 L366.83,300.95 L367.61,300.74 L368.38,300.53 L369.16,300.3 L369.93,300.08 L370.71,299.85 L371.48,299.63 L372.25,299.41 L373.03,299.2 L373.8,299.01 L374.58,298.83 L375.35,298.67 L376.13,298.52 L376.9,298.38 L377.67,298.24 L378.45,298.09 L379.22,297.9 L380,297.64 L380.77,297.27 L381.55,296.73 L382.32,295.96 L383.09,294.89 L383.87,293.45 L384.64,291.61 L385.42,289.47 L386.19,287.41 L386.4,287.4 L386.97,288.02 L387.74,289.7 L388.51,291.45 L389.29,293.13 L390.06,294.69 L390.84,296.1 L391.61,297.34 L392.39,298.43 L393.16,299.37 L393.93,300.17 L394.71,300.84 L395.48,301.41 L396.26,301.89 L397.03,302.29 L397.81,302.62 L398.58,302.89 L399.35,303.11 L400.13,303.3 L400.9,303.44 L401.68,303.57 L402.45,303.66 L403.23,303.74 L404,303.8" fill="none" stroke="#a3142f" stroke-width="1.15" stroke-linejoin="round"/>
<defs><linearGradient id="hg6" gradientUnits="userSpaceOnUse" x1="0" y1="304.9" x2="0" y2="317.9"><stop offset="0" stop-color="#f1c6c6"/><stop offset="0.45" stop-color="#f1c6c6"/><stop offset="1" stop-color="#ffffff"/></linearGradient></defs>
<path d="M349.8,312.46 L350.57,312.48 L351.35,312.5 L352.12,312.51 L352.9,312.52 L353.67,312.52 L354.45,312.52 L355.22,312.51 L355.99,312.49 L356.77,312.47 L357.54,312.43 L358.32,312.38 L359.09,312.32 L359.87,312.24 L360.64,312.15 L361.41,312.04 L362.19,311.92 L362.96,311.78 L363.74,311.62 L364.51,311.44 L365.29,311.25 L366.06,311.04 L366.83,310.81 L367.61,310.58 L368.38,310.33 L369.16,310.08 L369.93,309.82 L370.71,309.56 L371.48,309.3 L372.25,309.05 L373.03,308.81 L373.8,308.57 L374.58,308.35 L375.35,308.13 L376.13,307.91 L376.9,307.68 L377.67,307.42 L378.45,307.1 L379.22,306.69 L380,306.12 L380.77,305.33 L381.55,304.23 L382.32,302.73 L383.09,300.72 L383.87,298.12 L384.64,294.94 L385.42,291.31 L386.19,287.9 L386.4,287.6 L386.97,288.77 L387.74,291.37 L388.51,294.1 L389.29,296.75 L390.06,299.21 L390.84,301.44 L391.61,303.41 L392.39,305.14 L393.16,306.63 L393.93,307.9 L394.71,308.97 L395.48,309.88 L396.26,310.63 L397.03,311.26 L397.81,311.78 L398.58,312.2 L399.35,312.55 L400.13,312.83 L400.9,313.06 L401.68,313.24 L402.45,313.39 L403.23,313.5 L404,313.59 L404,333.3 L349.8,333.3 Z" fill="url(#hg6)" stroke="none" stroke-width="0"/>
<path d="M349.8,312.46 L350.57,312.48 L351.35,312.5 L352.12,312.51 L352.9,312.52 L353.67,312.52 L354.45,312.52 L355.22,312.51 L355.99,312.49 L356.77,312.47 L357.54,312.43 L358.32,312.38 L359.09,312.32 L359.87,312.24 L360.64,312.15 L361.41,312.04 L362.19,311.92 L362.96,311.78 L363.74,311.62 L364.51,311.44 L365.29,311.25 L366.06,311.04 L366.83,310.81 L367.61,310.58 L368.38,310.33 L369.16,310.08 L369.93,309.82 L370.71,309.56 L371.48,309.3 L372.25,309.05 L373.03,308.81 L373.8,308.57 L374.58,308.35 L375.35,308.13 L376.13,307.91 L376.9,307.68 L377.67,307.42 L378.45,307.1 L379.22,306.69 L380,306.12 L380.77,305.33 L381.55,304.23 L382.32,302.73 L383.09,300.72 L383.87,298.12 L384.64,294.94 L385.42,291.31 L386.19,287.9 L386.4,287.6 L386.97,288.77 L387.74,291.37 L388.51,294.1 L389.29,296.75 L390.06,299.21 L390.84,301.44 L391.61,303.41 L392.39,305.14 L393.16,306.63 L393.93,307.9 L394.71,308.97 L395.48,309.88 L396.26,310.63 L397.03,311.26 L397.81,311.78 L398.58,312.2 L399.35,312.55 L400.13,312.83 L400.9,313.06 L401.68,313.24 L402.45,313.39 L403.23,313.5 L404,313.59" fill="none" stroke="#a3142f" stroke-width="1.15" stroke-linejoin="round"/>
<defs><linearGradient id="hg7" gradientUnits="userSpaceOnUse" x1="0" y1="314.7" x2="0" y2="327.7"><stop offset="0" stop-color="#efc0c0"/><stop offset="0.45" stop-color="#efc0c0"/><stop offset="1" stop-color="#ffffff"/></linearGradient></defs>
<path d="M349.8,320.66 L350.57,320.71 L351.35,320.76 L352.12,320.81 L352.9,320.85 L353.67,320.88 L354.45,320.91 L355.22,320.93 L355.99,320.94 L356.77,320.94 L357.54,320.93 L358.32,320.9 L359.09,320.86 L359.87,320.81 L360.64,320.74 L361.41,320.65 L362.19,320.54 L362.96,320.41 L363.74,320.27 L364.51,320.1 L365.29,319.92 L366.06,319.71 L366.83,319.5 L367.61,319.26 L368.38,319.02 L369.16,318.76 L369.93,318.5 L370.71,318.24 L371.48,317.98 L372.25,317.72 L373.03,317.46 L373.8,317.21 L374.58,316.95 L375.35,316.69 L376.13,316.41 L376.9,316.09 L377.67,315.7 L378.45,315.2 L379.22,314.53 L380,313.61 L380.77,312.37 L381.55,310.68 L382.32,308.43 L383.09,305.51 L383.87,301.84 L384.64,297.44 L385.42,292.54 L386.19,287.98 L386.4,287.8 L386.97,289.16 L387.74,292.69 L388.51,296.41 L389.29,300.03 L390.06,303.4 L390.84,306.45 L391.61,309.17 L392.39,311.54 L393.16,313.6 L393.93,315.35 L394.71,316.85 L395.48,318.1 L396.26,319.15 L397.03,320.02 L397.81,320.74 L398.58,321.33 L399.35,321.82 L400.13,322.21 L400.9,322.53 L401.68,322.79 L402.45,322.99 L403.23,323.15 L404,323.28 L404,333.3 L349.8,333.3 Z" fill="url(#hg7)" stroke="none" stroke-width="0"/>
<path d="M349.8,320.66 L350.57,320.71 L351.35,320.76 L352.12,320.81 L352.9,320.85 L353.67,320.88 L354.45,320.91 L355.22,320.93 L355.99,320.94 L356.77,320.94 L357.54,320.93 L358.32,320.9 L359.09,320.86 L359.87,320.81 L360.64,320.74 L361.41,320.65 L362.19,320.54 L362.96,320.41 L363.74,320.27 L364.51,320.1 L365.29,319.92 L366.06,319.71 L366.83,319.5 L367.61,319.26 L368.38,319.02 L369.16,318.76 L369.93,318.5 L370.71,318.24 L371.48,317.98 L372.25,317.72 L373.03,317.46 L373.8,317.21 L374.58,316.95 L375.35,316.69 L376.13,316.41 L376.9,316.09 L377.67,315.7 L378.45,315.2 L379.22,314.53 L380,313.61 L380.77,312.37 L381.55,310.68 L382.32,308.43 L383.09,305.51 L383.87,301.84 L384.64,297.44 L385.42,292.54 L386.19,287.98 L386.4,287.8 L386.97,289.16 L387.74,292.69 L388.51,296.41 L389.29,300.03 L390.06,303.4 L390.84,306.45 L391.61,309.17 L392.39,311.54 L393.16,313.6 L393.93,315.35 L394.71,316.85 L395.48,318.1 L396.26,319.15 L397.03,320.02 L397.81,320.74 L398.58,321.33 L399.35,321.82 L400.13,322.21 L400.9,322.53 L401.68,322.79 L402.45,322.99 L403.23,323.15 L404,323.28" fill="none" stroke="#a3142f" stroke-width="1.15" stroke-linejoin="round"/>
<path d="M349.8,332.4 L350.57,332.42 L351.35,332.43 L352.12,332.45 L352.9,332.47 L353.67,332.48 L354.45,332.5 L355.22,332.52 L355.99,332.53 L356.77,332.55 L357.54,332.56 L358.32,332.58 L359.09,332.59 L359.87,332.6 L360.64,332.61 L361.41,332.61 L362.19,332.61 L362.96,332.6 L363.74,332.58 L364.51,332.54 L365.29,332.48 L366.06,332.38 L366.83,332.25 L367.61,332.07 L368.38,331.84 L369.16,331.54 L369.93,331.18 L370.71,330.73 L371.48,330.21 L372.25,329.61 L373.03,328.93 L373.8,328.18 L374.58,327.36 L375.35,326.48 L376.13,325.53 L376.9,324.51 L377.67,323.38 L378.45,322.12 L379.22,320.66 L380,318.93 L380.77,316.84 L381.55,314.29 L382.32,311.18 L383.09,307.44 L383.87,303.05 L384.64,298.08 L385.42,292.83 L386.19,288.17 L386.4,287.6 L386.97,290.16 L387.74,295.05 L388.51,300.15 L389.29,305.01 L390.06,309.47 L390.84,313.44 L391.61,316.9 L392.39,319.87 L393.16,322.37 L393.93,324.47 L394.71,326.2 L395.48,327.63 L396.26,328.78 L397.03,329.72 L397.81,330.47 L398.58,331.07 L399.35,331.55 L400.13,331.92 L400.9,332.22 L401.68,332.45 L402.45,332.63 L403.23,332.77 L404,332.87 L404,333.3 L349.8,333.3 Z" fill="#e6a9a3" stroke="none" stroke-width="0"/>
<path d="M349.8,332.4 L350.57,332.42 L351.35,332.43 L352.12,332.45 L352.9,332.47 L353.67,332.48 L354.45,332.5 L355.22,332.52 L355.99,332.53 L356.77,332.55 L357.54,332.56 L358.32,332.58 L359.09,332.59 L359.87,332.6 L360.64,332.61 L361.41,332.61 L362.19,332.61 L362.96,332.6 L363.74,332.58 L364.51,332.54 L365.29,332.48 L366.06,332.38 L366.83,332.25 L367.61,332.07 L368.38,331.84 L369.16,331.54 L369.93,331.18 L370.71,330.73 L371.48,330.21 L372.25,329.61 L373.03,328.93 L373.8,328.18 L374.58,327.36 L375.35,326.48 L376.13,325.53 L376.9,324.51 L377.67,323.38 L378.45,322.12 L379.22,320.66 L380,318.93 L380.77,316.84 L381.55,314.29 L382.32,311.18 L383.09,307.44 L383.87,303.05 L384.64,298.08 L385.42,292.83 L386.19,288.17 L386.4,287.6 L386.97,290.16 L387.74,295.05 L388.51,300.15 L389.29,305.01 L390.06,309.47 L390.84,313.44 L391.61,316.9 L392.39,319.87 L393.16,322.37 L393.93,324.47 L394.71,326.2 L395.48,327.63 L396.26,328.78 L397.03,329.72 L397.81,330.47 L398.58,331.07 L399.35,331.55 L400.13,331.92 L400.9,332.22 L401.68,332.45 L402.45,332.63 L403.23,332.77 L404,332.87" fill="none" stroke="#a3142f" stroke-width="1.15" stroke-linejoin="round"/>
<rect x="349.2" y="222.4" width="55.2" height="111.2" fill="none" stroke="#111" stroke-width="1"/>
<line x1="349.2" y1="333.5" x2="404.4" y2="333.5" stroke="#111" stroke-width="1.6"/>
<line x1="349.6" y1="333.8" x2="349.6" y2="336" stroke="#111" stroke-width="0.6"/>
<line x1="353.33" y1="333.8" x2="353.33" y2="335" stroke="#111" stroke-width="0.6"/>
<line x1="355.52" y1="333.8" x2="355.52" y2="335" stroke="#111" stroke-width="0.6"/>
<line x1="357.07" y1="333.8" x2="357.07" y2="335" stroke="#111" stroke-width="0.6"/>
<line x1="358.27" y1="333.8" x2="358.27" y2="335" stroke="#111" stroke-width="0.6"/>
<line x1="359.25" y1="333.8" x2="359.25" y2="335" stroke="#111" stroke-width="0.6"/>
<line x1="360.08" y1="333.8" x2="360.08" y2="335" stroke="#111" stroke-width="0.6"/>
<line x1="360.8" y1="333.8" x2="360.8" y2="335" stroke="#111" stroke-width="0.6"/>
<line x1="361.43" y1="333.8" x2="361.43" y2="335" stroke="#111" stroke-width="0.6"/>
<line x1="362" y1="333.8" x2="362" y2="336" stroke="#111" stroke-width="0.6"/>
<line x1="365.73" y1="333.8" x2="365.73" y2="335" stroke="#111" stroke-width="0.6"/>
<line x1="367.92" y1="333.8" x2="367.92" y2="335" stroke="#111" stroke-width="0.6"/>
<line x1="369.47" y1="333.8" x2="369.47" y2="335" stroke="#111" stroke-width="0.6"/>
<line x1="370.67" y1="333.8" x2="370.67" y2="335" stroke="#111" stroke-width="0.6"/>
<line x1="371.65" y1="333.8" x2="371.65" y2="335" stroke="#111" stroke-width="0.6"/>
<line x1="372.48" y1="333.8" x2="372.48" y2="335" stroke="#111" stroke-width="0.6"/>
<line x1="373.2" y1="333.8" x2="373.2" y2="335" stroke="#111" stroke-width="0.6"/>
<line x1="373.83" y1="333.8" x2="373.83" y2="335" stroke="#111" stroke-width="0.6"/>
<line x1="374.4" y1="333.8" x2="374.4" y2="336" stroke="#111" stroke-width="0.6"/>
<line x1="378.13" y1="333.8" x2="378.13" y2="335" stroke="#111" stroke-width="0.6"/>
<line x1="380.32" y1="333.8" x2="380.32" y2="335" stroke="#111" stroke-width="0.6"/>
<line x1="381.87" y1="333.8" x2="381.87" y2="335" stroke="#111" stroke-width="0.6"/>
<line x1="383.07" y1="333.8" x2="383.07" y2="335" stroke="#111" stroke-width="0.6"/>
<line x1="384.05" y1="333.8" x2="384.05" y2="335" stroke="#111" stroke-width="0.6"/>
<line x1="384.88" y1="333.8" x2="384.88" y2="335" stroke="#111" stroke-width="0.6"/>
<line x1="385.6" y1="333.8" x2="385.6" y2="335" stroke="#111" stroke-width="0.6"/>
<line x1="386.23" y1="333.8" x2="386.23" y2="335" stroke="#111" stroke-width="0.6"/>
<line x1="386.8" y1="333.8" x2="386.8" y2="336" stroke="#111" stroke-width="0.6"/>
<line x1="390.53" y1="333.8" x2="390.53" y2="335" stroke="#111" stroke-width="0.6"/>
<line x1="392.72" y1="333.8" x2="392.72" y2="335" stroke="#111" stroke-width="0.6"/>
<line x1="394.27" y1="333.8" x2="394.27" y2="335" stroke="#111" stroke-width="0.6"/>
<line x1="395.47" y1="333.8" x2="395.47" y2="335" stroke="#111" stroke-width="0.6"/>
<line x1="396.45" y1="333.8" x2="396.45" y2="335" stroke="#111" stroke-width="0.6"/>
<line x1="397.28" y1="333.8" x2="397.28" y2="335" stroke="#111" stroke-width="0.6"/>
<line x1="398" y1="333.8" x2="398" y2="335" stroke="#111" stroke-width="0.6"/>
<line x1="398.63" y1="333.8" x2="398.63" y2="335" stroke="#111" stroke-width="0.6"/>
<line x1="399.2" y1="333.8" x2="399.2" y2="336" stroke="#111" stroke-width="0.6"/>
<line x1="402.93" y1="333.8" x2="402.93" y2="335" stroke="#111" stroke-width="0.6"/>
<text x="366.2" y="229.4" font-size="8.4" text-anchor="middle" font-weight="normal" fill="#1a1a1a" textLength="11.4" lengthAdjust="spacingAndGlyphs">low</text>
<text x="383.4" y="229.4" font-size="8.4" text-anchor="middle" font-weight="normal" fill="#1a1a1a" textLength="14.4" lengthAdjust="spacingAndGlyphs">high</text>
<line x1="357.5" y1="231.5" x2="374.4" y2="231.5" stroke="#111" stroke-width="0.9"/>
<path d="M355.2,231.5 L358.8,229.8 L358.8,233.2 Z" fill="#111" stroke="none" stroke-width="1"/>
<line x1="374.4" y1="229.9" x2="374.4" y2="233.1" stroke="#111" stroke-width="0.8"/>
<line x1="375.8" y1="231.5" x2="393.8" y2="231.5" stroke="#111" stroke-width="0.9"/>
<line x1="375.8" y1="229.9" x2="375.8" y2="233.1" stroke="#111" stroke-width="0.8"/>
<line x1="393.8" y1="229.9" x2="393.8" y2="233.1" stroke="#111" stroke-width="0.8"/>
<line x1="344.1" y1="242.1" x2="344.1" y2="292.5" stroke="#111" stroke-width="0.9"/>
<line x1="342.1" y1="242.1" x2="346.1" y2="242.1" stroke="#111" stroke-width="0.9"/>
<line x1="342.1" y1="292.5" x2="346.1" y2="292.5" stroke="#111" stroke-width="0.9"/>
<line x1="344.1" y1="295.7" x2="344.1" y2="333.2" stroke="#111" stroke-width="0.9"/>
<line x1="342.1" y1="295.7" x2="346.1" y2="295.7" stroke="#111" stroke-width="0.9"/>
<line x1="342.1" y1="333.2" x2="346.1" y2="333.2" stroke="#111" stroke-width="0.9"/>
<text x="341.1" y="268.4" font-size="7.8" text-anchor="middle" font-weight="normal" fill="#1a1a1a" transform="rotate(-90 341.1 268.4)">P95H/+</text>
<text x="341.1" y="313.9" font-size="7.8" text-anchor="middle" font-weight="normal" fill="#1a1a1a" transform="rotate(-90 341.1 313.9)">+/+</text>
<text x="348.1" y="347.6" font-size="8.6" text-anchor="start" font-weight="normal" fill="#1a1a1a" textLength="28" lengthAdjust="spacingAndGlyphs">CD45RB</text>
<line x1="380.4" y1="345.2" x2="391.5" y2="345.2" stroke="#111" stroke-width="0.9"/>
<path d="M394.4,345.2 L390.6,343.5 L390.6,346.9 Z" fill="#111" stroke="none" stroke-width="1"/>
<text x="410.8" y="230.85" font-size="12.2" font-weight="bold" fill="#000" style="stroke:#000;stroke-width:0.15px;letter-spacing:0">F</text>
<line x1="445.7" y1="235.1" x2="445.7" y2="334.2" stroke="#111" stroke-width="1.4"/>
<line x1="442.7" y1="333.5" x2="445.7" y2="333.5" stroke="#111" stroke-width="1"/>
<text x="440.2" y="336.27" font-size="7.7" text-anchor="end" font-weight="normal" fill="#1c1c1c">0</text>
<line x1="442.7" y1="313.94" x2="445.7" y2="313.94" stroke="#111" stroke-width="1"/>
<text x="440.2" y="316.71" font-size="7.7" text-anchor="end" font-weight="normal" fill="#1c1c1c">10</text>
<line x1="442.7" y1="294.38" x2="445.7" y2="294.38" stroke="#111" stroke-width="1"/>
<text x="440.2" y="297.15" font-size="7.7" text-anchor="end" font-weight="normal" fill="#1c1c1c">20</text>
<line x1="442.7" y1="274.82" x2="445.7" y2="274.82" stroke="#111" stroke-width="1"/>
<text x="440.2" y="277.59" font-size="7.7" text-anchor="end" font-weight="normal" fill="#1c1c1c">30</text>
<line x1="442.7" y1="255.26" x2="445.7" y2="255.26" stroke="#111" stroke-width="1"/>
<text x="440.2" y="258.03" font-size="7.7" text-anchor="end" font-weight="normal" fill="#1c1c1c">40</text>
<line x1="442.7" y1="235.7" x2="445.7" y2="235.7" stroke="#111" stroke-width="1"/>
<text x="440.2" y="238.47" font-size="7.7" text-anchor="end" font-weight="normal" fill="#1c1c1c">50</text>
<line x1="444.3" y1="323.72" x2="445.7" y2="323.72" stroke="#111" stroke-width="0.8"/>
<line x1="444.3" y1="304.16" x2="445.7" y2="304.16" stroke="#111" stroke-width="0.8"/>
<line x1="444.3" y1="284.6" x2="445.7" y2="284.6" stroke="#111" stroke-width="0.8"/>
<line x1="444.3" y1="265.04" x2="445.7" y2="265.04" stroke="#111" stroke-width="0.8"/>
<line x1="444.3" y1="245.48" x2="445.7" y2="245.48" stroke="#111" stroke-width="0.8"/>
<line x1="445" y1="333.5" x2="508.6" y2="333.5" stroke="#111" stroke-width="1.4"/>
<line x1="465.6" y1="333.5" x2="465.6" y2="336.5" stroke="#111" stroke-width="1"/>
<line x1="491.4" y1="333.5" x2="491.4" y2="336.5" stroke="#111" stroke-width="1"/>
<text x="484" y="241" font-size="7.2" text-anchor="middle" font-weight="normal" fill="#1a1a1a"><tspan font-style="italic">P</tspan>=0.1144</text>
<text x="425.1" y="283.9" font-size="9.6" text-anchor="middle" font-weight="normal" fill="#1a1a1a" transform="rotate(-90 425.1 283.9)" textLength="90.4" lengthAdjust="spacingAndGlyphs">BM cellularity (x10<tspan dy="-3.6" font-size="6.4">6</tspan><tspan dy="3.6">/femur)</tspan></text>
<circle cx="465.6" cy="252.8" r="2.7" fill="#781030" stroke="#2a0610" stroke-width="0.7"/>
<circle cx="465.6" cy="263.4" r="2.7" fill="#781030" stroke="#2a0610" stroke-width="0.7"/>
<circle cx="469.7" cy="265.1" r="2.7" fill="#781030" stroke="#2a0610" stroke-width="0.7"/>
<circle cx="462.3" cy="270.4" r="2.7" fill="#781030" stroke="#2a0610" stroke-width="0.7"/>
<circle cx="462.3" cy="285.9" r="2.7" fill="#781030" stroke="#2a0610" stroke-width="0.7"/>
<circle cx="469.7" cy="287.1" r="2.7" fill="#781030" stroke="#2a0610" stroke-width="0.7"/>
<circle cx="465.6" cy="295.2" r="2.7" fill="#781030" stroke="#2a0610" stroke-width="0.7"/>
<line x1="457.6" y1="274.3" x2="473.9" y2="274.3" stroke="#111" stroke-width="1"/>
<line x1="465.6" y1="269.1" x2="465.6" y2="280.2" stroke="#111" stroke-width="1"/>
<line x1="462.6" y1="269.1" x2="468.6" y2="269.1" stroke="#111" stroke-width="1.1"/>
<line x1="462.6" y1="280.2" x2="468.6" y2="280.2" stroke="#111" stroke-width="1.1"/>
<rect x="484.2" y="271.4" width="4.6" height="4.6" fill="#34416a" stroke="#121a30" stroke-width="0.9"/>
<rect x="491.5" y="271.4" width="4.6" height="4.6" fill="#34416a" stroke="#121a30" stroke-width="0.9"/>
<rect x="486.2" y="276.2" width="4.6" height="4.6" fill="#34416a" stroke="#121a30" stroke-width="0.9"/>
<rect x="490.2" y="277.2" width="4.6" height="4.6" fill="#34416a" stroke="#121a30" stroke-width="0.9"/>
<rect x="487.9" y="280.7" width="4.6" height="4.6" fill="#34416a" stroke="#121a30" stroke-width="0.9"/>
<rect x="484.2" y="286.1" width="4.6" height="4.6" fill="#34416a" stroke="#121a30" stroke-width="0.9"/>
<rect x="495.6" y="291.3" width="4.6" height="4.6" fill="#34416a" stroke="#121a30" stroke-width="0.9"/>
<rect x="491.5" y="296.5" width="4.6" height="4.6" fill="#34416a" stroke="#121a30" stroke-width="0.9"/>
<rect x="484.2" y="301.1" width="4.6" height="4.6" fill="#34416a" stroke="#121a30" stroke-width="0.9"/>
<line x1="482" y1="286.3" x2="498.4" y2="286.3" stroke="#111" stroke-width="1"/>
<line x1="490.2" y1="282.2" x2="490.2" y2="290.3" stroke="#111" stroke-width="1"/>
<line x1="487.2" y1="282.2" x2="493.2" y2="282.2" stroke="#111" stroke-width="1.1"/>
<line x1="487.2" y1="290.3" x2="493.2" y2="290.3" stroke="#111" stroke-width="1.1"/>
<text x="465.6" y="346.4" font-size="7.6" text-anchor="middle" font-weight="normal" fill="#1a1a1a">+/+</text>
<text x="490.6" y="346.4" font-size="7.6" text-anchor="middle" font-weight="normal" fill="#1a1a1a">P95H/+</text>
<text x="479.35" y="359.7" font-size="9.5" text-anchor="middle" font-weight="normal" fill="#1a1a1a" textLength="22.9" lengthAdjust="spacingAndGlyphs">24 wks</text>
<text x="9.04" y="375.35" font-size="12.2" font-weight="bold" fill="#000" style="stroke:#000;stroke-width:0.15px;letter-spacing:0">G</text>
<line x1="33.3" y1="378.4" x2="33.3" y2="478.3" stroke="#111" stroke-width="1.4"/>
<line x1="30.3" y1="477.6" x2="33.3" y2="477.6" stroke="#111" stroke-width="1"/>
<text x="27.8" y="480.37" font-size="7.7" text-anchor="end" font-weight="normal" fill="#1c1c1c">0</text>
<line x1="30.3" y1="444.73" x2="33.3" y2="444.73" stroke="#111" stroke-width="1"/>
<text x="27.8" y="447.51" font-size="7.7" text-anchor="end" font-weight="normal" fill="#1c1c1c">5</text>
<line x1="30.3" y1="411.87" x2="33.3" y2="411.87" stroke="#111" stroke-width="1"/>
<text x="27.8" y="414.64" font-size="7.7" text-anchor="end" font-weight="normal" fill="#1c1c1c">10</text>
<line x1="30.3" y1="379" x2="33.3" y2="379" stroke="#111" stroke-width="1"/>
<text x="27.8" y="381.77" font-size="7.7" text-anchor="end" font-weight="normal" fill="#1c1c1c">15</text>
<line x1="32.6" y1="477.6" x2="98.6" y2="477.6" stroke="#111" stroke-width="1.4"/>
<line x1="50.6" y1="477.6" x2="50.6" y2="480.6" stroke="#111" stroke-width="1"/>
<line x1="83" y1="477.6" x2="83" y2="480.6" stroke="#111" stroke-width="1"/>
<text x="16" y="427.45" font-size="9.6" text-anchor="middle" font-weight="normal" fill="#1a1a1a" transform="rotate(-90 16 427.45)" textLength="73.5" lengthAdjust="spacingAndGlyphs">Cells per femur (x10<tspan dy="-3.6" font-size="6.4">6</tspan><tspan dy="3.6">)</tspan></text>
<rect x="40.4" y="406.28" width="8.3" height="71.32" fill="#b8122f" stroke="#8a0d24" stroke-width="0.5"/>
<line x1="44.55" y1="398.72" x2="44.55" y2="413.84" stroke="#1a1a1a" stroke-width="0.9"/>
<line x1="42.45" y1="398.72" x2="46.65" y2="398.72" stroke="#1a1a1a" stroke-width="1"/>
<line x1="42.45" y1="413.84" x2="46.65" y2="413.84" stroke="#1a1a1a" stroke-width="1"/>
<rect x="52.7" y="399.71" width="8.6" height="77.89" fill="#2f5590" stroke="#1f3560" stroke-width="0.5"/>
<line x1="57" y1="392.15" x2="57" y2="407.27" stroke="#1a1a1a" stroke-width="0.9"/>
<line x1="54.9" y1="392.15" x2="59.1" y2="392.15" stroke="#1a1a1a" stroke-width="1"/>
<line x1="54.9" y1="407.27" x2="59.1" y2="407.27" stroke="#1a1a1a" stroke-width="1"/>
<rect x="72.9" y="457.03" width="8.3" height="20.57" fill="#b8122f" stroke="#8a0d24" stroke-width="0.5"/>
<line x1="77.05" y1="454.59" x2="77.05" y2="459.46" stroke="#1a1a1a" stroke-width="0.9"/>
<line x1="74.95" y1="454.59" x2="79.15" y2="454.59" stroke="#1a1a1a" stroke-width="1"/>
<line x1="74.95" y1="459.46" x2="79.15" y2="459.46" stroke="#1a1a1a" stroke-width="1"/>
<rect x="84.8" y="458.73" width="8.3" height="18.87" fill="#2f5590" stroke="#1f3560" stroke-width="0.5"/>
<line x1="88.95" y1="454.59" x2="88.95" y2="462.88" stroke="#1a1a1a" stroke-width="0.9"/>
<line x1="86.85" y1="454.59" x2="91.05" y2="454.59" stroke="#1a1a1a" stroke-width="1"/>
<line x1="86.85" y1="462.88" x2="91.05" y2="462.88" stroke="#1a1a1a" stroke-width="1"/>
<rect x="66.6" y="381.4" width="3.7" height="3.8" fill="#b8122f" stroke="none" stroke-width="0.6"/>
<rect x="66.6" y="389" width="3.7" height="3.8" fill="#2f5590" stroke="none" stroke-width="0.6"/>
<text x="72.4" y="386" font-size="7.6" text-anchor="start" font-weight="normal" fill="#1a1a1a">+/+</text>
<text x="72.4" y="393.6" font-size="7.6" text-anchor="start" font-weight="normal" fill="#1a1a1a">P95H/+</text>
<text x="53.6" y="486" font-size="7.8" text-anchor="end" font-weight="normal" fill="#1a1a1a" transform="rotate(-45 53.6 486)">Granulocytes</text>
<text x="85.6" y="486" font-size="7.8" text-anchor="end" font-weight="normal" fill="#1a1a1a" transform="rotate(-45 85.6 486)">Monocytes</text>
<line x1="129.6" y1="378.4" x2="129.6" y2="477.9" stroke="#111" stroke-width="1.4"/>
<line x1="126.6" y1="477.2" x2="129.6" y2="477.2" stroke="#111" stroke-width="1"/>
<text x="124.1" y="479.97" font-size="7.7" text-anchor="end" font-weight="normal" fill="#1c1c1c">0</text>
<line x1="126.6" y1="463.17" x2="129.6" y2="463.17" stroke="#111" stroke-width="1"/>
<text x="124.1" y="465.94" font-size="7.7" text-anchor="end" font-weight="normal" fill="#1c1c1c">10</text>
<line x1="126.6" y1="449.14" x2="129.6" y2="449.14" stroke="#111" stroke-width="1"/>
<text x="124.1" y="451.91" font-size="7.7" text-anchor="end" font-weight="normal" fill="#1c1c1c">20</text>
<line x1="126.6" y1="435.11" x2="129.6" y2="435.11" stroke="#111" stroke-width="1"/>
<text x="124.1" y="437.89" font-size="7.7" text-anchor="end" font-weight="normal" fill="#1c1c1c">30</text>
<line x1="126.6" y1="421.09" x2="129.6" y2="421.09" stroke="#111" stroke-width="1"/>
<text x="124.1" y="423.86" font-size="7.7" text-anchor="end" font-weight="normal" fill="#1c1c1c">40</text>
<line x1="126.6" y1="407.06" x2="129.6" y2="407.06" stroke="#111" stroke-width="1"/>
<text x="124.1" y="409.83" font-size="7.7" text-anchor="end" font-weight="normal" fill="#1c1c1c">50</text>
<line x1="126.6" y1="393.03" x2="129.6" y2="393.03" stroke="#111" stroke-width="1"/>
<text x="124.1" y="395.8" font-size="7.7" text-anchor="end" font-weight="normal" fill="#1c1c1c">60</text>
<line x1="126.6" y1="379" x2="129.6" y2="379" stroke="#111" stroke-width="1"/>
<text x="124.1" y="381.77" font-size="7.7" text-anchor="end" font-weight="normal" fill="#1c1c1c">70</text>
<line x1="128.2" y1="470.19" x2="129.6" y2="470.19" stroke="#111" stroke-width="0.8"/>
<line x1="128.2" y1="456.16" x2="129.6" y2="456.16" stroke="#111" stroke-width="0.8"/>
<line x1="128.2" y1="442.13" x2="129.6" y2="442.13" stroke="#111" stroke-width="0.8"/>
<line x1="128.2" y1="428.1" x2="129.6" y2="428.1" stroke="#111" stroke-width="0.8"/>
<line x1="128.2" y1="414.07" x2="129.6" y2="414.07" stroke="#111" stroke-width="0.8"/>
<line x1="128.2" y1="400.04" x2="129.6" y2="400.04" stroke="#111" stroke-width="0.8"/>
<line x1="128.2" y1="386.01" x2="129.6" y2="386.01" stroke="#111" stroke-width="0.8"/>
<line x1="128.9" y1="477.2" x2="193.6" y2="477.2" stroke="#111" stroke-width="1.4"/>
<line x1="145.4" y1="477.2" x2="145.4" y2="480.2" stroke="#111" stroke-width="1"/>
<line x1="177.5" y1="477.2" x2="177.5" y2="480.2" stroke="#111" stroke-width="1"/>
<text x="109.7" y="427.3" font-size="9.6" text-anchor="middle" font-weight="normal" fill="#1a1a1a" transform="rotate(-90 109.7 427.3)" textLength="63.8" lengthAdjust="spacingAndGlyphs">Cells per femur (%)</text>
<circle cx="139.8" cy="380.4" r="1.05" fill="#111" stroke="none" stroke-width="0.6"/>
<circle cx="143" cy="380.4" r="1.05" fill="#111" stroke="none" stroke-width="0.6"/>
<circle cx="146.2" cy="380.4" r="1.05" fill="#111" stroke="none" stroke-width="0.6"/>
<circle cx="139.4" cy="422.6" r="2.4" fill="#7c1131" stroke="#2a0610" stroke-width="0.6"/>
<circle cx="136.4" cy="426.5" r="2.4" fill="#7c1131" stroke="#2a0610" stroke-width="0.6"/>
<circle cx="142.3" cy="426.5" r="2.4" fill="#7c1131" stroke="#2a0610" stroke-width="0.6"/>
<circle cx="139.4" cy="428.5" r="2.4" fill="#7c1131" stroke="#2a0610" stroke-width="0.6"/>
<circle cx="136.8" cy="429.5" r="2.4" fill="#7c1131" stroke="#2a0610" stroke-width="0.6"/>
<circle cx="141.8" cy="429.8" r="2.4" fill="#7c1131" stroke="#2a0610" stroke-width="0.6"/>
<circle cx="139.4" cy="431.8" r="2.4" fill="#7c1131" stroke="#2a0610" stroke-width="0.6"/>
<rect x="149.6" y="388" width="4.6" height="4.6" fill="#3b5482" stroke="#16223e" stroke-width="0.9"/>
<rect x="147.2" y="401" width="4.6" height="4.6" fill="#3b5482" stroke="#16223e" stroke-width="0.9"/>
<rect x="152.9" y="401" width="4.6" height="4.6" fill="#3b5482" stroke="#16223e" stroke-width="0.9"/>
<rect x="145.5" y="407.2" width="4.6" height="4.6" fill="#3b5482" stroke="#16223e" stroke-width="0.9"/>
<rect x="149.6" y="404.7" width="4.6" height="4.6" fill="#3b5482" stroke="#16223e" stroke-width="0.9"/>
<rect x="153.7" y="407.2" width="4.6" height="4.6" fill="#3b5482" stroke="#16223e" stroke-width="0.9"/>
<rect x="149.6" y="409.5" width="4.6" height="4.6" fill="#3b5482" stroke="#16223e" stroke-width="0.9"/>
<rect x="147.7" y="412.1" width="4.6" height="4.6" fill="#3b5482" stroke="#16223e" stroke-width="0.9"/>
<rect x="151.3" y="412.1" width="4.6" height="4.6" fill="#3b5482" stroke="#16223e" stroke-width="0.9"/>
<rect x="149.6" y="421.1" width="4.6" height="4.6" fill="#3b5482" stroke="#16223e" stroke-width="0.9"/>
<line x1="136" y1="427.3" x2="143" y2="427.3" stroke="#111" stroke-width="0.9"/>
<line x1="148" y1="408.3" x2="156" y2="408.3" stroke="#111" stroke-width="0.9"/>
<circle cx="171.5" cy="458.5" r="2.4" fill="#7c1131" stroke="#2a0610" stroke-width="0.6"/>
<circle cx="168.5" cy="462" r="2.4" fill="#7c1131" stroke="#2a0610" stroke-width="0.6"/>
<circle cx="174.5" cy="461.6" r="2.4" fill="#7c1131" stroke="#2a0610" stroke-width="0.6"/>
<circle cx="171.5" cy="463.4" r="2.4" fill="#7c1131" stroke="#2a0610" stroke-width="0.6"/>
<circle cx="168" cy="465.6" r="2.4" fill="#7c1131" stroke="#2a0610" stroke-width="0.6"/>
<circle cx="173" cy="466" r="2.4" fill="#7c1131" stroke="#2a0610" stroke-width="0.6"/>
<circle cx="170.6" cy="467" r="2.4" fill="#7c1131" stroke="#2a0610" stroke-width="0.6"/>
<circle cx="175" cy="464.5" r="2.4" fill="#7c1131" stroke="#2a0610" stroke-width="0.6"/>
<rect x="178.7" y="446" width="4.6" height="4.6" fill="#3b5482" stroke="#16223e" stroke-width="0.9"/>
<rect x="185.4" y="446" width="4.6" height="4.6" fill="#3b5482" stroke="#16223e" stroke-width="0.9"/>
<rect x="182.3" y="454.5" width="4.6" height="4.6" fill="#3b5482" stroke="#16223e" stroke-width="0.9"/>
<rect x="181.3" y="458.5" width="4.6" height="4.6" fill="#3b5482" stroke="#16223e" stroke-width="0.9"/>
<rect x="183.3" y="461.3" width="4.6" height="4.6" fill="#3b5482" stroke="#16223e" stroke-width="0.9"/>
<rect x="182.3" y="465.3" width="4.6" height="4.6" fill="#3b5482" stroke="#16223e" stroke-width="0.9"/>
<rect x="182.3" y="469.7" width="4.6" height="4.6" fill="#3b5482" stroke="#16223e" stroke-width="0.9"/>
<line x1="181.5" y1="463" x2="188.5" y2="463" stroke="#111" stroke-width="0.9"/>
<text x="148" y="486" font-size="7.8" text-anchor="end" font-weight="normal" fill="#1a1a1a" transform="rotate(-45 148 486)">Granulocytes</text>
<text x="180" y="486" font-size="7.8" text-anchor="end" font-weight="normal" fill="#1a1a1a" transform="rotate(-45 180 486)">Monocytes</text>
<text x="200.85" y="375" font-size="12.2" font-weight="bold" fill="#000" style="stroke:#000;stroke-width:0.15px;letter-spacing:0">H</text>
<line x1="224.6" y1="378.8" x2="224.6" y2="478" stroke="#111" stroke-width="1.4"/>
<line x1="221.6" y1="477.3" x2="224.6" y2="477.3" stroke="#111" stroke-width="1"/>
<text x="219.1" y="480.07" font-size="7.7" text-anchor="end" font-weight="normal" fill="#1c1c1c">0</text>
<line x1="221.6" y1="452.82" x2="224.6" y2="452.82" stroke="#111" stroke-width="1"/>
<text x="219.1" y="455.6" font-size="7.7" text-anchor="end" font-weight="normal" fill="#1c1c1c">1</text>
<line x1="221.6" y1="428.35" x2="224.6" y2="428.35" stroke="#111" stroke-width="1"/>
<text x="219.1" y="431.12" font-size="7.7" text-anchor="end" font-weight="normal" fill="#1c1c1c">2</text>
<line x1="221.6" y1="403.88" x2="224.6" y2="403.88" stroke="#111" stroke-width="1"/>
<text x="219.1" y="406.65" font-size="7.7" text-anchor="end" font-weight="normal" fill="#1c1c1c">3</text>
<line x1="221.6" y1="379.4" x2="224.6" y2="379.4" stroke="#111" stroke-width="1"/>
<text x="219.1" y="382.17" font-size="7.7" text-anchor="end" font-weight="normal" fill="#1c1c1c">4</text>
<line x1="223.9" y1="477.3" x2="285.9" y2="477.3" stroke="#111" stroke-width="1.4"/>
<line x1="240.8" y1="477.3" x2="240.8" y2="480.3" stroke="#111" stroke-width="1"/>
<line x1="273.3" y1="477.3" x2="273.3" y2="480.3" stroke="#111" stroke-width="1"/>
<text x="209.2" y="427.1" font-size="9.6" text-anchor="middle" font-weight="normal" fill="#1a1a1a" transform="rotate(-90 209.2 427.1)" textLength="74.2" lengthAdjust="spacingAndGlyphs">Cells per femur (x10<tspan dy="-3.6" font-size="6.4">6</tspan><tspan dy="3.6">)</tspan></text>
<rect x="230.4" y="429.08" width="8.8" height="48.22" fill="#b8122f" stroke="#8a0d24" stroke-width="0.5"/>
<line x1="234.8" y1="421.01" x2="234.8" y2="437.16" stroke="#1a1a1a" stroke-width="0.9"/>
<line x1="232.7" y1="421.01" x2="236.9" y2="421.01" stroke="#1a1a1a" stroke-width="1"/>
<line x1="232.7" y1="437.16" x2="236.9" y2="437.16" stroke="#1a1a1a" stroke-width="1"/>
<rect x="243" y="454.05" width="8.1" height="23.25" fill="#2f5590" stroke="#1f3560" stroke-width="0.5"/>
<line x1="247.05" y1="449.64" x2="247.05" y2="458.45" stroke="#1a1a1a" stroke-width="0.9"/>
<line x1="244.95" y1="449.64" x2="249.15" y2="449.64" stroke="#1a1a1a" stroke-width="1"/>
<line x1="244.95" y1="458.45" x2="249.15" y2="458.45" stroke="#1a1a1a" stroke-width="1"/>
<rect x="263.2" y="404.61" width="8.8" height="72.69" fill="#b8122f" stroke="#8a0d24" stroke-width="0.5"/>
<line x1="267.6" y1="396.04" x2="267.6" y2="413.18" stroke="#1a1a1a" stroke-width="0.9"/>
<line x1="265.5" y1="396.04" x2="269.7" y2="396.04" stroke="#1a1a1a" stroke-width="1"/>
<line x1="265.5" y1="413.18" x2="269.7" y2="413.18" stroke="#1a1a1a" stroke-width="1"/>
<rect x="275.3" y="436.92" width="8.1" height="40.38" fill="#2f5590" stroke="#1f3560" stroke-width="0.5"/>
<line x1="279.35" y1="430.8" x2="279.35" y2="443.04" stroke="#1a1a1a" stroke-width="0.9"/>
<line x1="277.25" y1="430.8" x2="281.45" y2="430.8" stroke="#1a1a1a" stroke-width="1"/>
<line x1="277.25" y1="443.04" x2="281.45" y2="443.04" stroke="#1a1a1a" stroke-width="1"/>
<circle cx="241.6" cy="412.1" r="1.05" fill="#111" stroke="none" stroke-width="0.6"/>
<circle cx="272.8" cy="385.3" r="1.05" fill="#111" stroke="none" stroke-width="0.6"/>
<circle cx="276" cy="385.3" r="1.05" fill="#111" stroke="none" stroke-width="0.6"/>
<text x="240.4" y="489.8" font-size="7.6" text-anchor="middle" font-weight="normal" fill="#1a1a1a">B220+</text>
<text x="240.4" y="500" font-size="7.6" text-anchor="middle" font-weight="normal" fill="#1a1a1a">IgM+</text>
<text x="273.3" y="489.8" font-size="7.6" text-anchor="middle" font-weight="normal" fill="#1a1a1a">B220+</text>
<text x="273.3" y="500" font-size="7.6" text-anchor="middle" font-weight="normal" fill="#1a1a1a">IgM-</text>
<path d="M273.3,503 L273.3,509.2 L335,509.2 L335,506" fill="none" stroke="#111" stroke-width="0.9"/>
<path d="M335,503.2 L333.3,506.6 L336.7,506.6 Z" fill="#111" stroke="none" stroke-width="1"/>
<line x1="320.3" y1="378.8" x2="320.3" y2="477.9" stroke="#111" stroke-width="1.4"/>
<line x1="317.3" y1="477.2" x2="320.3" y2="477.2" stroke="#111" stroke-width="1"/>
<text x="314.8" y="479.97" font-size="7.7" text-anchor="end" font-weight="normal" fill="#1c1c1c">0.0</text>
<line x1="317.3" y1="457.64" x2="320.3" y2="457.64" stroke="#111" stroke-width="1"/>
<text x="314.8" y="460.41" font-size="7.7" text-anchor="end" font-weight="normal" fill="#1c1c1c">0.5</text>
<line x1="317.3" y1="438.08" x2="320.3" y2="438.08" stroke="#111" stroke-width="1"/>
<text x="314.8" y="440.85" font-size="7.7" text-anchor="end" font-weight="normal" fill="#1c1c1c">1.0</text>
<line x1="317.3" y1="418.52" x2="320.3" y2="418.52" stroke="#111" stroke-width="1"/>
<text x="314.8" y="421.29" font-size="7.7" text-anchor="end" font-weight="normal" fill="#1c1c1c">1.5</text>
<line x1="317.3" y1="398.96" x2="320.3" y2="398.96" stroke="#111" stroke-width="1"/>
<text x="314.8" y="401.73" font-size="7.7" text-anchor="end" font-weight="normal" fill="#1c1c1c">2.0</text>
<line x1="317.3" y1="379.4" x2="320.3" y2="379.4" stroke="#111" stroke-width="1"/>
<text x="314.8" y="382.17" font-size="7.7" text-anchor="end" font-weight="normal" fill="#1c1c1c">2.5</text>
<line x1="319.6" y1="477.2" x2="383.9" y2="477.2" stroke="#111" stroke-width="1.4"/>
<line x1="331.8" y1="477.2" x2="331.8" y2="480.2" stroke="#111" stroke-width="1"/>
<line x1="353.5" y1="477.2" x2="353.5" y2="480.2" stroke="#111" stroke-width="1"/>
<line x1="375" y1="477.2" x2="375" y2="480.2" stroke="#111" stroke-width="1"/>
<text x="299.1" y="427.3" font-size="9.6" text-anchor="middle" font-weight="normal" fill="#1a1a1a" transform="rotate(-90 299.1 427.3)" textLength="73.8" lengthAdjust="spacingAndGlyphs">Cells per femur (x10<tspan dy="-3.6" font-size="6.4">6</tspan><tspan dy="3.6">)</tspan></text>
<rect x="324.9" y="460.77" width="5.5" height="16.43" fill="#b8122f" stroke="#8a0d24" stroke-width="0.5"/>
<line x1="327.65" y1="458.81" x2="327.65" y2="462.73" stroke="#1a1a1a" stroke-width="0.9"/>
<line x1="326.15" y1="458.81" x2="329.15" y2="458.81" stroke="#1a1a1a" stroke-width="1"/>
<line x1="326.15" y1="462.73" x2="329.15" y2="462.73" stroke="#1a1a1a" stroke-width="1"/>
<rect x="333" y="465.07" width="5.7" height="12.13" fill="#2f5590" stroke="#1f3560" stroke-width="0.5"/>
<line x1="335.85" y1="463.51" x2="335.85" y2="466.64" stroke="#1a1a1a" stroke-width="0.9"/>
<line x1="334.35" y1="463.51" x2="337.35" y2="463.51" stroke="#1a1a1a" stroke-width="1"/>
<line x1="334.35" y1="466.64" x2="337.35" y2="466.64" stroke="#1a1a1a" stroke-width="1"/>
<rect x="346.8" y="463.12" width="5.5" height="14.08" fill="#b8122f" stroke="#8a0d24" stroke-width="0.5"/>
<line x1="349.55" y1="459.99" x2="349.55" y2="466.25" stroke="#1a1a1a" stroke-width="0.9"/>
<line x1="348.05" y1="459.99" x2="351.05" y2="459.99" stroke="#1a1a1a" stroke-width="1"/>
<line x1="348.05" y1="466.25" x2="351.05" y2="466.25" stroke="#1a1a1a" stroke-width="1"/>
<rect x="354.9" y="468.2" width="5.3" height="9" fill="#2f5590" stroke="#1f3560" stroke-width="0.5"/>
<line x1="357.55" y1="465.86" x2="357.55" y2="470.55" stroke="#1a1a1a" stroke-width="0.9"/>
<line x1="356.05" y1="465.86" x2="359.05" y2="465.86" stroke="#1a1a1a" stroke-width="1"/>
<line x1="356.05" y1="470.55" x2="359.05" y2="470.55" stroke="#1a1a1a" stroke-width="1"/>
<rect x="368.2" y="398.18" width="5.6" height="79.02" fill="#b8122f" stroke="#8a0d24" stroke-width="0.5"/>
<line x1="371" y1="387.22" x2="371" y2="409.13" stroke="#1a1a1a" stroke-width="0.9"/>
<line x1="369.5" y1="387.22" x2="372.5" y2="387.22" stroke="#1a1a1a" stroke-width="1"/>
<line x1="369.5" y1="409.13" x2="372.5" y2="409.13" stroke="#1a1a1a" stroke-width="1"/>
<rect x="376.3" y="438.08" width="5.5" height="39.12" fill="#2f5590" stroke="#1f3560" stroke-width="0.5"/>
<line x1="379.05" y1="430.26" x2="379.05" y2="445.9" stroke="#1a1a1a" stroke-width="0.9"/>
<line x1="377.55" y1="430.26" x2="380.55" y2="430.26" stroke="#1a1a1a" stroke-width="1"/>
<line x1="377.55" y1="445.9" x2="380.55" y2="445.9" stroke="#1a1a1a" stroke-width="1"/>
<circle cx="372.6" cy="382.2" r="1.05" fill="#111" stroke="none" stroke-width="0.6"/>
<circle cx="375.8" cy="382.2" r="1.05" fill="#111" stroke="none" stroke-width="0.6"/>
<circle cx="379" cy="382.2" r="1.05" fill="#111" stroke="none" stroke-width="0.6"/>
<text x="332.2" y="489.8" font-size="7.6" text-anchor="middle" font-weight="normal" fill="#1a1a1a">Pre</text>
<text x="332.2" y="500" font-size="7.6" text-anchor="middle" font-weight="normal" fill="#1a1a1a">ProB</text>
<text x="353.3" y="489.8" font-size="7.6" text-anchor="middle" font-weight="normal" fill="#1a1a1a">ProB</text>
<text x="375.4" y="489.8" font-size="7.6" text-anchor="middle" font-weight="normal" fill="#1a1a1a">PreB</text>
<text x="392.96" y="374.9" font-size="12.2" font-weight="bold" fill="#000" style="stroke:#000;stroke-width:0.15px;letter-spacing:0">I</text>
<line x1="419" y1="379.1" x2="419" y2="478.5" stroke="#111" stroke-width="1.4"/>
<line x1="416" y1="477.8" x2="419" y2="477.8" stroke="#111" stroke-width="1"/>
<text x="413.5" y="480.57" font-size="7.7" text-anchor="end" font-weight="normal" fill="#1c1c1c">0</text>
<line x1="416" y1="445.1" x2="419" y2="445.1" stroke="#111" stroke-width="1"/>
<text x="413.5" y="447.87" font-size="7.7" text-anchor="end" font-weight="normal" fill="#1c1c1c">4</text>
<line x1="416" y1="412.4" x2="419" y2="412.4" stroke="#111" stroke-width="1"/>
<text x="413.5" y="415.17" font-size="7.7" text-anchor="end" font-weight="normal" fill="#1c1c1c">8</text>
<line x1="416" y1="379.7" x2="419" y2="379.7" stroke="#111" stroke-width="1"/>
<text x="413.5" y="382.47" font-size="7.7" text-anchor="end" font-weight="normal" fill="#1c1c1c">12</text>
<line x1="417.6" y1="461.45" x2="419" y2="461.45" stroke="#111" stroke-width="0.8"/>
<line x1="417.6" y1="428.75" x2="419" y2="428.75" stroke="#111" stroke-width="0.8"/>
<line x1="417.6" y1="396.05" x2="419" y2="396.05" stroke="#111" stroke-width="0.8"/>
<line x1="418.3" y1="477.8" x2="512.8" y2="477.8" stroke="#111" stroke-width="1.4"/>
<line x1="434.8" y1="477.8" x2="434.8" y2="480.8" stroke="#111" stroke-width="1"/>
<line x1="467.2" y1="477.8" x2="467.2" y2="480.8" stroke="#111" stroke-width="1"/>
<line x1="499.7" y1="477.8" x2="499.7" y2="480.8" stroke="#111" stroke-width="1"/>
<text x="399.2" y="426.85" font-size="9.6" text-anchor="middle" font-weight="normal" fill="#1a1a1a" transform="rotate(-90 399.2 426.85)" textLength="74.3" lengthAdjust="spacingAndGlyphs">Cells per femur (x10<tspan dy="-3.6" font-size="6.4">6</tspan><tspan dy="3.6">)</tspan></text>
<rect x="424.6" y="396.05" width="8.4" height="81.75" fill="#b8122f" stroke="#8a0d24" stroke-width="0.5"/>
<line x1="428.8" y1="388.69" x2="428.8" y2="403.41" stroke="#1a1a1a" stroke-width="0.9"/>
<line x1="426.7" y1="388.69" x2="430.9" y2="388.69" stroke="#1a1a1a" stroke-width="1"/>
<line x1="426.7" y1="403.41" x2="430.9" y2="403.41" stroke="#1a1a1a" stroke-width="1"/>
<rect x="436.6" y="422.21" width="8.4" height="55.59" fill="#2f5590" stroke="#1f3560" stroke-width="0.5"/>
<line x1="440.8" y1="417.31" x2="440.8" y2="427.12" stroke="#1a1a1a" stroke-width="0.9"/>
<line x1="438.7" y1="417.31" x2="442.9" y2="417.31" stroke="#1a1a1a" stroke-width="1"/>
<line x1="438.7" y1="427.12" x2="442.9" y2="427.12" stroke="#1a1a1a" stroke-width="1"/>
<rect x="457" y="468.4" width="8.4" height="9.4" fill="#b8122f" stroke="#8a0d24" stroke-width="0.5"/>
<line x1="461.2" y1="465.13" x2="461.2" y2="471.67" stroke="#1a1a1a" stroke-width="0.9"/>
<line x1="459.1" y1="465.13" x2="463.3" y2="465.13" stroke="#1a1a1a" stroke-width="1"/>
<line x1="459.1" y1="471.67" x2="463.3" y2="471.67" stroke="#1a1a1a" stroke-width="1"/>
<rect x="469" y="473.3" width="8.5" height="4.5" fill="#2f5590" stroke="#1f3560" stroke-width="0.5"/>
<line x1="473.25" y1="471.26" x2="473.25" y2="475.35" stroke="#1a1a1a" stroke-width="0.9"/>
<line x1="471.15" y1="471.26" x2="475.35" y2="471.26" stroke="#1a1a1a" stroke-width="1"/>
<line x1="471.15" y1="475.35" x2="475.35" y2="475.35" stroke="#1a1a1a" stroke-width="1"/>
<rect x="489.5" y="434.06" width="8.4" height="43.74" fill="#b8122f" stroke="#8a0d24" stroke-width="0.5"/>
<line x1="493.7" y1="429.98" x2="493.7" y2="438.15" stroke="#1a1a1a" stroke-width="0.9"/>
<line x1="491.6" y1="429.98" x2="495.8" y2="429.98" stroke="#1a1a1a" stroke-width="1"/>
<line x1="491.6" y1="438.15" x2="495.8" y2="438.15" stroke="#1a1a1a" stroke-width="1"/>
<rect x="501.5" y="441.83" width="8.4" height="35.97" fill="#2f5590" stroke="#1f3560" stroke-width="0.5"/>
<line x1="505.7" y1="436.93" x2="505.7" y2="446.74" stroke="#1a1a1a" stroke-width="0.9"/>
<line x1="503.6" y1="436.93" x2="507.8" y2="436.93" stroke="#1a1a1a" stroke-width="1"/>
<line x1="503.6" y1="446.74" x2="507.8" y2="446.74" stroke="#1a1a1a" stroke-width="1"/>
<circle cx="435.4" cy="377.3" r="1.05" fill="#111" stroke="none" stroke-width="0.6"/>
<circle cx="438.6" cy="377.3" r="1.05" fill="#111" stroke="none" stroke-width="0.6"/>
<text x="434.7" y="490.2" font-size="7.6" text-anchor="middle" font-weight="normal" fill="#1a1a1a">CD71+</text>
<text x="434.7" y="499.8" font-size="7.6" text-anchor="middle" font-weight="normal" fill="#1a1a1a">Ter119+</text>
<text x="467.1" y="490.2" font-size="7.6" text-anchor="middle" font-weight="normal" fill="#1a1a1a">CD71<tspan dy="-2.6" font-size="4.8">mid</tspan></text>
<text x="467.1" y="499.8" font-size="7.6" text-anchor="middle" font-weight="normal" fill="#1a1a1a">Ter119+</text>
<text x="499.6" y="490.2" font-size="7.6" text-anchor="middle" font-weight="normal" fill="#1a1a1a">CD71-</text>
<text x="499.6" y="499.8" font-size="7.6" text-anchor="middle" font-weight="normal" fill="#1a1a1a">Ter119+</text>
<text x="11.74" y="535.6" font-size="12.2" font-weight="bold" fill="#000" style="stroke:#000;stroke-width:0.15px;letter-spacing:0">J</text>
<text x="83.7" y="542.6" font-size="7.6" text-anchor="middle" font-weight="normal" fill="#1a1a1a" textLength="47.5" lengthAdjust="spacingAndGlyphs">lin<tspan dy="-2.6" font-size="4.8">-</tspan><tspan dy="2.6">cKit</tspan><tspan dy="-2.6" font-size="4.8">+</tspan><tspan dy="2.6">Sca1</tspan><tspan dy="-2.6" font-size="4.8">+</tspan></text>
<text x="84.1" y="551.6" font-size="7.6" text-anchor="middle" font-weight="normal" fill="#1a1a1a" textLength="37.4" lengthAdjust="spacingAndGlyphs">CD34/Flt3</text>
<line x1="52" y1="544.9" x2="52" y2="644.5" stroke="#111" stroke-width="1.4"/>
<line x1="49" y1="643.8" x2="52" y2="643.8" stroke="#111" stroke-width="1"/>
<text x="46.5" y="646.57" font-size="7.7" text-anchor="end" font-weight="normal" fill="#1c1c1c">0.001</text>
<line x1="49" y1="611.03" x2="52" y2="611.03" stroke="#111" stroke-width="1"/>
<text x="46.5" y="613.81" font-size="7.7" text-anchor="end" font-weight="normal" fill="#1c1c1c">0.01</text>
<line x1="49" y1="578.27" x2="52" y2="578.27" stroke="#111" stroke-width="1"/>
<text x="46.5" y="581.04" font-size="7.7" text-anchor="end" font-weight="normal" fill="#1c1c1c">0.1</text>
<line x1="49" y1="545.5" x2="52" y2="545.5" stroke="#111" stroke-width="1"/>
<text x="46.5" y="548.27" font-size="7.7" text-anchor="end" font-weight="normal" fill="#1c1c1c">1</text>
<line x1="50.5" y1="633.94" x2="52" y2="633.94" stroke="#111" stroke-width="0.6"/>
<line x1="50.5" y1="628.17" x2="52" y2="628.17" stroke="#111" stroke-width="0.6"/>
<line x1="50.5" y1="624.07" x2="52" y2="624.07" stroke="#111" stroke-width="0.6"/>
<line x1="50.5" y1="620.9" x2="52" y2="620.9" stroke="#111" stroke-width="0.6"/>
<line x1="50.5" y1="618.3" x2="52" y2="618.3" stroke="#111" stroke-width="0.6"/>
<line x1="50.5" y1="616.11" x2="52" y2="616.11" stroke="#111" stroke-width="0.6"/>
<line x1="50.5" y1="614.21" x2="52" y2="614.21" stroke="#111" stroke-width="0.6"/>
<line x1="50.5" y1="612.53" x2="52" y2="612.53" stroke="#111" stroke-width="0.6"/>
<line x1="50.5" y1="601.17" x2="52" y2="601.17" stroke="#111" stroke-width="0.6"/>
<line x1="50.5" y1="595.4" x2="52" y2="595.4" stroke="#111" stroke-width="0.6"/>
<line x1="50.5" y1="591.31" x2="52" y2="591.31" stroke="#111" stroke-width="0.6"/>
<line x1="50.5" y1="588.13" x2="52" y2="588.13" stroke="#111" stroke-width="0.6"/>
<line x1="50.5" y1="585.54" x2="52" y2="585.54" stroke="#111" stroke-width="0.6"/>
<line x1="50.5" y1="583.34" x2="52" y2="583.34" stroke="#111" stroke-width="0.6"/>
<line x1="50.5" y1="581.44" x2="52" y2="581.44" stroke="#111" stroke-width="0.6"/>
<line x1="50.5" y1="579.77" x2="52" y2="579.77" stroke="#111" stroke-width="0.6"/>
<line x1="50.5" y1="568.4" x2="52" y2="568.4" stroke="#111" stroke-width="0.6"/>
<line x1="50.5" y1="562.63" x2="52" y2="562.63" stroke="#111" stroke-width="0.6"/>
<line x1="50.5" y1="558.54" x2="52" y2="558.54" stroke="#111" stroke-width="0.6"/>
<line x1="50.5" y1="555.36" x2="52" y2="555.36" stroke="#111" stroke-width="0.6"/>
<line x1="50.5" y1="552.77" x2="52" y2="552.77" stroke="#111" stroke-width="0.6"/>
<line x1="50.5" y1="550.58" x2="52" y2="550.58" stroke="#111" stroke-width="0.6"/>
<line x1="50.5" y1="548.68" x2="52" y2="548.68" stroke="#111" stroke-width="0.6"/>
<line x1="50.5" y1="547" x2="52" y2="547" stroke="#111" stroke-width="0.6"/>
<line x1="51.3" y1="643.8" x2="117.5" y2="643.8" stroke="#111" stroke-width="1.4"/>
<line x1="63.2" y1="643.8" x2="63.2" y2="646.8" stroke="#111" stroke-width="1"/>
<line x1="84.9" y1="643.8" x2="84.9" y2="646.8" stroke="#111" stroke-width="1"/>
<line x1="106.6" y1="643.8" x2="106.6" y2="646.8" stroke="#111" stroke-width="1"/>
<text x="21.2" y="592.4" font-size="9.6" text-anchor="middle" font-weight="normal" fill="#1a1a1a" transform="rotate(-90 21.2 592.4)" textLength="74.8" lengthAdjust="spacingAndGlyphs">Cells per femur (x10<tspan dy="-3.6" font-size="6.4">6</tspan><tspan dy="3.6">)</tspan></text>
<rect x="56.3" y="620.07" width="5.7" height="23.73" fill="#b8122f" stroke="#8a0d24" stroke-width="0.5"/>
<line x1="59.15" y1="617.16" x2="59.15" y2="622.97" stroke="#1a1a1a" stroke-width="0.9"/>
<line x1="57.85" y1="617.16" x2="60.45" y2="617.16" stroke="#1a1a1a" stroke-width="1"/>
<line x1="57.85" y1="622.97" x2="60.45" y2="622.97" stroke="#1a1a1a" stroke-width="1"/>
<rect x="64.5" y="640.07" width="5.8" height="3.73" fill="#2f5590" stroke="#1f3560" stroke-width="0.5"/>
<line x1="67.4" y1="636.25" x2="67.4" y2="643.3" stroke="#1a1a1a" stroke-width="0.9"/>
<line x1="66.1" y1="636.25" x2="68.7" y2="636.25" stroke="#1a1a1a" stroke-width="1"/>
<line x1="66.1" y1="643.3" x2="68.7" y2="643.3" stroke="#1a1a1a" stroke-width="1"/>
<rect x="78" y="587.57" width="5.8" height="56.23" fill="#b8122f" stroke="#8a0d24" stroke-width="0.5"/>
<line x1="80.9" y1="585.07" x2="80.9" y2="590.08" stroke="#1a1a1a" stroke-width="0.9"/>
<line x1="79.6" y1="585.07" x2="82.2" y2="585.07" stroke="#1a1a1a" stroke-width="1"/>
<line x1="79.6" y1="590.08" x2="82.2" y2="590.08" stroke="#1a1a1a" stroke-width="1"/>
<rect x="86.3" y="592.81" width="5.7" height="50.99" fill="#2f5590" stroke="#1f3560" stroke-width="0.5"/>
<line x1="89.15" y1="589.63" x2="89.15" y2="595.98" stroke="#1a1a1a" stroke-width="0.9"/>
<line x1="87.85" y1="589.63" x2="90.45" y2="589.63" stroke="#1a1a1a" stroke-width="1"/>
<line x1="87.85" y1="595.98" x2="90.45" y2="595.98" stroke="#1a1a1a" stroke-width="1"/>
<rect x="99.5" y="601.17" width="5.8" height="42.63" fill="#b8122f" stroke="#8a0d24" stroke-width="0.5"/>
<line x1="102.4" y1="597.44" x2="102.4" y2="604.9" stroke="#1a1a1a" stroke-width="0.9"/>
<line x1="101.1" y1="597.44" x2="103.7" y2="597.44" stroke="#1a1a1a" stroke-width="1"/>
<line x1="101.1" y1="604.9" x2="103.7" y2="604.9" stroke="#1a1a1a" stroke-width="1"/>
<rect x="108" y="608.44" width="5.8" height="35.36" fill="#2f5590" stroke="#1f3560" stroke-width="0.5"/>
<line x1="110.9" y1="604.35" x2="110.9" y2="612.53" stroke="#1a1a1a" stroke-width="0.9"/>
<line x1="109.6" y1="604.35" x2="112.2" y2="604.35" stroke="#1a1a1a" stroke-width="1"/>
<line x1="109.6" y1="612.53" x2="112.2" y2="612.53" stroke="#1a1a1a" stroke-width="1"/>
<circle cx="84.5" cy="578.8" r="1.05" fill="#111" stroke="none" stroke-width="0.6"/>
<text x="62.5" y="655.2" font-size="7.6" text-anchor="middle" font-weight="normal" fill="#1a1a1a">LT-</text>
<text x="62.5" y="665.2" font-size="7.6" text-anchor="middle" font-weight="normal" fill="#1a1a1a">HSC</text>
<text x="84.5" y="655.2" font-size="7.6" text-anchor="middle" font-weight="normal" fill="#1a1a1a">ST-</text>
<text x="84.5" y="665.2" font-size="7.6" text-anchor="middle" font-weight="normal" fill="#1a1a1a">HSC</text>
<text x="106" y="655.2" font-size="7.6" text-anchor="middle" font-weight="normal" fill="#1a1a1a">MPP</text>
<text x="128.9" y="535.5" font-size="12.2" font-weight="bold" fill="#000" style="stroke:#000;stroke-width:0.15px;letter-spacing:0">K</text>
<text x="207.5" y="542.2" font-size="7.4" text-anchor="middle" font-weight="normal" fill="#1a1a1a">lin<tspan dy="-2.6" font-size="4.8">-</tspan><tspan dy="2.6">cKit</tspan><tspan dy="-2.6" font-size="4.8">+</tspan><tspan dy="2.6">Sca1</tspan><tspan dy="-2.6" font-size="4.8">+</tspan></text>
<text x="207.5" y="551.2" font-size="7.4" text-anchor="middle" font-weight="normal" fill="#1a1a1a">CD105/CD150</text>
<line x1="167.5" y1="544.9" x2="167.5" y2="644.5" stroke="#111" stroke-width="1.4"/>
<line x1="164.5" y1="643.8" x2="167.5" y2="643.8" stroke="#111" stroke-width="1"/>
<text x="162" y="646.57" font-size="7.7" text-anchor="end" font-weight="normal" fill="#1c1c1c">0.001</text>
<line x1="164.5" y1="611.03" x2="167.5" y2="611.03" stroke="#111" stroke-width="1"/>
<text x="162" y="613.81" font-size="7.7" text-anchor="end" font-weight="normal" fill="#1c1c1c">0.01</text>
<line x1="164.5" y1="578.27" x2="167.5" y2="578.27" stroke="#111" stroke-width="1"/>
<text x="162" y="581.04" font-size="7.7" text-anchor="end" font-weight="normal" fill="#1c1c1c">0.1</text>
<line x1="164.5" y1="545.5" x2="167.5" y2="545.5" stroke="#111" stroke-width="1"/>
<text x="162" y="548.27" font-size="7.7" text-anchor="end" font-weight="normal" fill="#1c1c1c">1</text>
<line x1="166" y1="633.94" x2="167.5" y2="633.94" stroke="#111" stroke-width="0.6"/>
<line x1="166" y1="628.17" x2="167.5" y2="628.17" stroke="#111" stroke-width="0.6"/>
<line x1="166" y1="624.07" x2="167.5" y2="624.07" stroke="#111" stroke-width="0.6"/>
<line x1="166" y1="620.9" x2="167.5" y2="620.9" stroke="#111" stroke-width="0.6"/>
<line x1="166" y1="618.3" x2="167.5" y2="618.3" stroke="#111" stroke-width="0.6"/>
<line x1="166" y1="616.11" x2="167.5" y2="616.11" stroke="#111" stroke-width="0.6"/>
<line x1="166" y1="614.21" x2="167.5" y2="614.21" stroke="#111" stroke-width="0.6"/>
<line x1="166" y1="612.53" x2="167.5" y2="612.53" stroke="#111" stroke-width="0.6"/>
<line x1="166" y1="601.17" x2="167.5" y2="601.17" stroke="#111" stroke-width="0.6"/>
<line x1="166" y1="595.4" x2="167.5" y2="595.4" stroke="#111" stroke-width="0.6"/>
<line x1="166" y1="591.31" x2="167.5" y2="591.31" stroke="#111" stroke-width="0.6"/>
<line x1="166" y1="588.13" x2="167.5" y2="588.13" stroke="#111" stroke-width="0.6"/>
<line x1="166" y1="585.54" x2="167.5" y2="585.54" stroke="#111" stroke-width="0.6"/>
<line x1="166" y1="583.34" x2="167.5" y2="583.34" stroke="#111" stroke-width="0.6"/>
<line x1="166" y1="581.44" x2="167.5" y2="581.44" stroke="#111" stroke-width="0.6"/>
<line x1="166" y1="579.77" x2="167.5" y2="579.77" stroke="#111" stroke-width="0.6"/>
<line x1="166" y1="568.4" x2="167.5" y2="568.4" stroke="#111" stroke-width="0.6"/>
<line x1="166" y1="562.63" x2="167.5" y2="562.63" stroke="#111" stroke-width="0.6"/>
<line x1="166" y1="558.54" x2="167.5" y2="558.54" stroke="#111" stroke-width="0.6"/>
<line x1="166" y1="555.36" x2="167.5" y2="555.36" stroke="#111" stroke-width="0.6"/>
<line x1="166" y1="552.77" x2="167.5" y2="552.77" stroke="#111" stroke-width="0.6"/>
<line x1="166" y1="550.58" x2="167.5" y2="550.58" stroke="#111" stroke-width="0.6"/>
<line x1="166" y1="548.68" x2="167.5" y2="548.68" stroke="#111" stroke-width="0.6"/>
<line x1="166" y1="547" x2="167.5" y2="547" stroke="#111" stroke-width="0.6"/>
<line x1="166.8" y1="643.8" x2="232.5" y2="643.8" stroke="#111" stroke-width="1.4"/>
<line x1="185.6" y1="643.8" x2="185.6" y2="646.8" stroke="#111" stroke-width="1"/>
<line x1="218" y1="643.8" x2="218" y2="646.8" stroke="#111" stroke-width="1"/>
<text x="138.2" y="592.85" font-size="9.6" text-anchor="middle" font-weight="normal" fill="#1a1a1a" transform="rotate(-90 138.2 592.85)" textLength="74.3" lengthAdjust="spacingAndGlyphs">Cells per femur (x10<tspan dy="-3.6" font-size="6.4">6</tspan><tspan dy="3.6">)</tspan></text>
<rect x="175.8" y="621.48" width="8" height="22.32" fill="#b8122f" stroke="#8a0d24" stroke-width="0.5"/>
<line x1="179.8" y1="615.51" x2="179.8" y2="627.44" stroke="#1a1a1a" stroke-width="0.9"/>
<line x1="178.3" y1="615.51" x2="181.3" y2="615.51" stroke="#1a1a1a" stroke-width="1"/>
<line x1="178.3" y1="627.44" x2="181.3" y2="627.44" stroke="#1a1a1a" stroke-width="1"/>
<rect x="187.5" y="630.76" width="8" height="13.04" fill="#2f5590" stroke="#1f3560" stroke-width="0.5"/>
<line x1="191.5" y1="625.57" x2="191.5" y2="635.95" stroke="#1a1a1a" stroke-width="0.9"/>
<line x1="190" y1="625.57" x2="193" y2="625.57" stroke="#1a1a1a" stroke-width="1"/>
<line x1="190" y1="635.95" x2="193" y2="635.95" stroke="#1a1a1a" stroke-width="1"/>
<rect x="208" y="588.71" width="8" height="55.09" fill="#b8122f" stroke="#8a0d24" stroke-width="0.5"/>
<line x1="212" y1="586.77" x2="212" y2="590.65" stroke="#1a1a1a" stroke-width="0.9"/>
<line x1="210.5" y1="586.77" x2="213.5" y2="586.77" stroke="#1a1a1a" stroke-width="1"/>
<line x1="210.5" y1="590.65" x2="213.5" y2="590.65" stroke="#1a1a1a" stroke-width="1"/>
<rect x="220" y="596.9" width="8" height="46.9" fill="#2f5590" stroke="#1f3560" stroke-width="0.5"/>
<line x1="224" y1="593.62" x2="224" y2="600.18" stroke="#1a1a1a" stroke-width="0.9"/>
<line x1="222.5" y1="593.62" x2="225.5" y2="593.62" stroke="#1a1a1a" stroke-width="1"/>
<line x1="222.5" y1="600.18" x2="225.5" y2="600.18" stroke="#1a1a1a" stroke-width="1"/>
<circle cx="215.9" cy="577" r="1.05" fill="#111" stroke="none" stroke-width="0.6"/>
<circle cx="219.1" cy="577" r="1.05" fill="#111" stroke="none" stroke-width="0.6"/>
<text x="185.8" y="655.8" font-size="7.6" text-anchor="middle" font-weight="normal" fill="#1a1a1a">HSC</text>
<text x="218" y="655.8" font-size="7.6" text-anchor="middle" font-weight="normal" fill="#1a1a1a">MPP</text>
<text x="247.56" y="535.5" font-size="12.2" font-weight="bold" fill="#000" style="stroke:#000;stroke-width:0.15px;letter-spacing:0">L</text>
<line x1="282.6" y1="544.5" x2="282.6" y2="644.2" stroke="#111" stroke-width="1.4"/>
<line x1="279.6" y1="643.5" x2="282.6" y2="643.5" stroke="#111" stroke-width="1"/>
<text x="277.1" y="646.27" font-size="7.7" text-anchor="end" font-weight="normal" fill="#1c1c1c">0.00</text>
<line x1="279.6" y1="623.82" x2="282.6" y2="623.82" stroke="#111" stroke-width="1"/>
<text x="277.1" y="626.59" font-size="7.7" text-anchor="end" font-weight="normal" fill="#1c1c1c">0.05</text>
<line x1="279.6" y1="604.14" x2="282.6" y2="604.14" stroke="#111" stroke-width="1"/>
<text x="277.1" y="606.91" font-size="7.7" text-anchor="end" font-weight="normal" fill="#1c1c1c">0.10</text>
<line x1="279.6" y1="584.46" x2="282.6" y2="584.46" stroke="#111" stroke-width="1"/>
<text x="277.1" y="587.23" font-size="7.7" text-anchor="end" font-weight="normal" fill="#1c1c1c">0.15</text>
<line x1="279.6" y1="564.78" x2="282.6" y2="564.78" stroke="#111" stroke-width="1"/>
<text x="277.1" y="567.55" font-size="7.7" text-anchor="end" font-weight="normal" fill="#1c1c1c">0.20</text>
<line x1="279.6" y1="545.1" x2="282.6" y2="545.1" stroke="#111" stroke-width="1"/>
<text x="277.1" y="547.87" font-size="7.7" text-anchor="end" font-weight="normal" fill="#1c1c1c">0.25</text>
<line x1="281.9" y1="643.5" x2="429.1" y2="643.5" stroke="#111" stroke-width="1.4"/>
<line x1="295.25" y1="643.5" x2="295.25" y2="646.5" stroke="#111" stroke-width="1"/>
<line x1="319.7" y1="643.5" x2="319.7" y2="646.5" stroke="#111" stroke-width="1"/>
<line x1="343.65" y1="643.5" x2="343.65" y2="646.5" stroke="#111" stroke-width="1"/>
<line x1="368.2" y1="643.5" x2="368.2" y2="646.5" stroke="#111" stroke-width="1"/>
<line x1="392.2" y1="643.5" x2="392.2" y2="646.5" stroke="#111" stroke-width="1"/>
<line x1="416.7" y1="643.5" x2="416.7" y2="646.5" stroke="#111" stroke-width="1"/>
<text x="256.4" y="592.4" font-size="9.6" text-anchor="middle" font-weight="normal" fill="#1a1a1a" transform="rotate(-90 256.4 592.4)" textLength="74.8" lengthAdjust="spacingAndGlyphs">Cells per femur (x10<tspan dy="-3.6" font-size="6.4">6</tspan><tspan dy="3.6">)</tspan></text>
<rect x="287.3" y="562.81" width="6.3" height="80.69" fill="#b8122f" stroke="#8a0d24" stroke-width="0.5"/>
<line x1="290.45" y1="558.09" x2="290.45" y2="567.54" stroke="#1a1a1a" stroke-width="0.9"/>
<line x1="288.75" y1="558.09" x2="292.15" y2="558.09" stroke="#1a1a1a" stroke-width="1"/>
<line x1="288.75" y1="567.54" x2="292.15" y2="567.54" stroke="#1a1a1a" stroke-width="1"/>
<rect x="296.9" y="578.56" width="6.3" height="64.94" fill="#2f5590" stroke="#1f3560" stroke-width="0.5"/>
<line x1="300.05" y1="566.75" x2="300.05" y2="590.36" stroke="#1a1a1a" stroke-width="0.9"/>
<line x1="298.35" y1="566.75" x2="301.75" y2="566.75" stroke="#1a1a1a" stroke-width="1"/>
<line x1="298.35" y1="590.36" x2="301.75" y2="590.36" stroke="#1a1a1a" stroke-width="1"/>
<rect x="311.8" y="569.5" width="6.3" height="74" fill="#b8122f" stroke="#8a0d24" stroke-width="0.5"/>
<line x1="314.95" y1="559.66" x2="314.95" y2="579.34" stroke="#1a1a1a" stroke-width="0.9"/>
<line x1="313.25" y1="559.66" x2="316.65" y2="559.66" stroke="#1a1a1a" stroke-width="1"/>
<line x1="313.25" y1="579.34" x2="316.65" y2="579.34" stroke="#1a1a1a" stroke-width="1"/>
<rect x="321.3" y="586.43" width="6.3" height="57.07" fill="#2f5590" stroke="#1f3560" stroke-width="0.5"/>
<line x1="324.45" y1="576.59" x2="324.45" y2="596.27" stroke="#1a1a1a" stroke-width="0.9"/>
<line x1="322.75" y1="576.59" x2="326.15" y2="576.59" stroke="#1a1a1a" stroke-width="1"/>
<line x1="322.75" y1="596.27" x2="326.15" y2="596.27" stroke="#1a1a1a" stroke-width="1"/>
<rect x="335.9" y="628.94" width="6.3" height="14.56" fill="#b8122f" stroke="#8a0d24" stroke-width="0.5"/>
<line x1="339.05" y1="626.58" x2="339.05" y2="631.3" stroke="#1a1a1a" stroke-width="0.9"/>
<line x1="337.35" y1="626.58" x2="340.75" y2="626.58" stroke="#1a1a1a" stroke-width="1"/>
<line x1="337.35" y1="631.3" x2="340.75" y2="631.3" stroke="#1a1a1a" stroke-width="1"/>
<rect x="345.1" y="632.48" width="6.3" height="11.02" fill="#2f5590" stroke="#1f3560" stroke-width="0.5"/>
<line x1="348.25" y1="629.72" x2="348.25" y2="635.23" stroke="#1a1a1a" stroke-width="0.9"/>
<line x1="346.55" y1="629.72" x2="349.95" y2="629.72" stroke="#1a1a1a" stroke-width="1"/>
<line x1="346.55" y1="635.23" x2="349.95" y2="635.23" stroke="#1a1a1a" stroke-width="1"/>
<rect x="360.3" y="612.01" width="6.3" height="31.49" fill="#b8122f" stroke="#8a0d24" stroke-width="0.5"/>
<line x1="363.45" y1="608.86" x2="363.45" y2="615.16" stroke="#1a1a1a" stroke-width="0.9"/>
<line x1="361.75" y1="608.86" x2="365.15" y2="608.86" stroke="#1a1a1a" stroke-width="1"/>
<line x1="361.75" y1="615.16" x2="365.15" y2="615.16" stroke="#1a1a1a" stroke-width="1"/>
<rect x="369.8" y="623.82" width="6.3" height="19.68" fill="#2f5590" stroke="#1f3560" stroke-width="0.5"/>
<line x1="372.95" y1="621.06" x2="372.95" y2="626.58" stroke="#1a1a1a" stroke-width="0.9"/>
<line x1="371.25" y1="621.06" x2="374.65" y2="621.06" stroke="#1a1a1a" stroke-width="1"/>
<line x1="371.25" y1="626.58" x2="374.65" y2="626.58" stroke="#1a1a1a" stroke-width="1"/>
<rect x="384.5" y="635.63" width="6.3" height="7.87" fill="#b8122f" stroke="#8a0d24" stroke-width="0.5"/>
<line x1="387.65" y1="634.45" x2="387.65" y2="636.81" stroke="#1a1a1a" stroke-width="0.9"/>
<line x1="385.95" y1="634.45" x2="389.35" y2="634.45" stroke="#1a1a1a" stroke-width="1"/>
<line x1="385.95" y1="636.81" x2="389.35" y2="636.81" stroke="#1a1a1a" stroke-width="1"/>
<rect x="393.6" y="637.99" width="6.3" height="5.51" fill="#2f5590" stroke="#1f3560" stroke-width="0.5"/>
<line x1="396.75" y1="637.2" x2="396.75" y2="638.78" stroke="#1a1a1a" stroke-width="0.9"/>
<line x1="395.05" y1="637.2" x2="398.45" y2="637.2" stroke="#1a1a1a" stroke-width="1"/>
<line x1="395.05" y1="638.78" x2="398.45" y2="638.78" stroke="#1a1a1a" stroke-width="1"/>
<rect x="408.9" y="573.44" width="6.3" height="70.06" fill="#b8122f" stroke="#8a0d24" stroke-width="0.5"/>
<line x1="412.05" y1="560.45" x2="412.05" y2="586.43" stroke="#1a1a1a" stroke-width="0.9"/>
<line x1="410.35" y1="560.45" x2="413.75" y2="560.45" stroke="#1a1a1a" stroke-width="1"/>
<line x1="410.35" y1="586.43" x2="413.75" y2="586.43" stroke="#1a1a1a" stroke-width="1"/>
<rect x="418.2" y="600.2" width="6.3" height="43.3" fill="#2f5590" stroke="#1f3560" stroke-width="0.5"/>
<line x1="421.35" y1="592.33" x2="421.35" y2="608.08" stroke="#1a1a1a" stroke-width="0.9"/>
<line x1="419.65" y1="592.33" x2="423.05" y2="592.33" stroke="#1a1a1a" stroke-width="1"/>
<line x1="419.65" y1="608.08" x2="423.05" y2="608.08" stroke="#1a1a1a" stroke-width="1"/>
<circle cx="416" cy="555.4" r="1.05" fill="#111" stroke="none" stroke-width="0.6"/>
<circle cx="419.2" cy="555.4" r="1.05" fill="#111" stroke="none" stroke-width="0.6"/>
<text x="296.45" y="656" font-size="7.8" text-anchor="middle" font-weight="normal" fill="#1a1a1a" textLength="26.9" lengthAdjust="spacingAndGlyphs">PreGM</text>
<text x="319.55" y="656" font-size="7.8" text-anchor="middle" font-weight="normal" fill="#1a1a1a" textLength="16.5" lengthAdjust="spacingAndGlyphs">GMP</text>
<text x="343.4" y="656" font-size="7.8" text-anchor="middle" font-weight="normal" fill="#1a1a1a" textLength="16.4" lengthAdjust="spacingAndGlyphs">MkP</text>
<text x="368" y="656" font-size="7.8" text-anchor="middle" font-weight="normal" fill="#1a1a1a" textLength="12" lengthAdjust="spacingAndGlyphs">Pre</text>
<text x="392.4" y="656" font-size="7.8" text-anchor="middle" font-weight="normal" fill="#1a1a1a" textLength="11" lengthAdjust="spacingAndGlyphs">Pre</text>
<text x="417.05" y="656" font-size="7.8" text-anchor="middle" font-weight="normal" fill="#1a1a1a" textLength="24.5" lengthAdjust="spacingAndGlyphs">CFU-E</text>
<text x="367.75" y="665.2" font-size="7.8" text-anchor="middle" font-weight="normal" fill="#1a1a1a" textLength="21.5" lengthAdjust="spacingAndGlyphs">MegE</text>
<text x="392.2" y="665.2" font-size="7.8" text-anchor="middle" font-weight="normal" fill="#1a1a1a" textLength="20.4" lengthAdjust="spacingAndGlyphs">CFUE</text>
</svg>
</body></html>
